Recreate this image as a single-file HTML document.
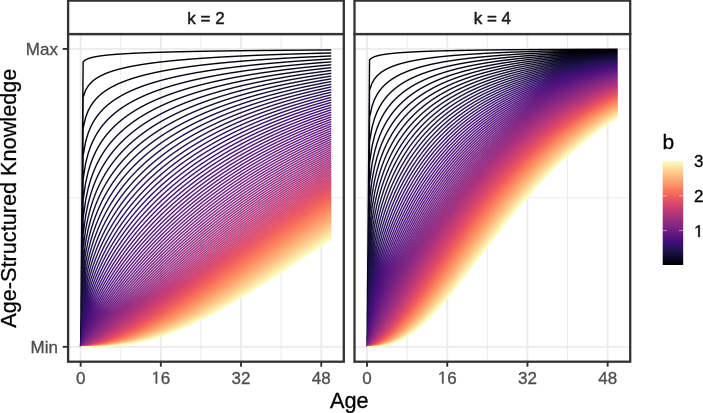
<!DOCTYPE html>
<html><head><meta charset="utf-8"><style>
html,body{margin:0;padding:0;background:#fff;}
body{width:703px;height:413px;overflow:hidden;position:relative;}
svg,canvas{display:block;position:absolute;left:0;top:0;}
svg{font-family:"Liberation Sans",sans-serif;}
.gmin{stroke:#EBEBEB;stroke-width:1;}
.gmaj{stroke:#EBEBEB;stroke-width:1.8;}
.tick{stroke:#333333;stroke-width:1.9;}
.border{fill:none;stroke:#333333;stroke-width:2.3;}
.strip{fill:#fff;stroke:#333333;stroke-width:2.3;}
.cv path{fill:none;stroke-width:1.45;stroke-linejoin:round;stroke-linecap:butt;}
.tl{font-size:17px;fill:#4D4D4D;stroke:#4D4D4D;stroke-width:0.3px;}
.st{font-size:17px;fill:#1A1A1A;stroke:#1A1A1A;stroke-width:0.45px;}
.lt{font-size:17px;fill:#000;stroke:#000;stroke-width:0.3px;}
.ti{font-size:21.7px;fill:#000;stroke:#000;stroke-width:0.3px;}
.ltick{stroke:#fff;stroke-width:1;opacity:0.5;}
</style></head><body>
<svg width="703" height="413" viewBox="0 0 703 413">
<defs>
<clipPath id="c1"><rect x="68.1" y="34.05" width="275.7" height="327.65"/></clipPath>
<clipPath id="c2"><rect x="354.5" y="34.05" width="275.7" height="327.65"/></clipPath>
</defs>
<rect width="703" height="413" fill="#fff"/>
<line x1="120.73" y1="34.05" x2="120.73" y2="361.70" class="gmin"/>
<line x1="200.94" y1="34.05" x2="200.94" y2="361.70" class="gmin"/>
<line x1="281.14" y1="34.05" x2="281.14" y2="361.70" class="gmin"/>
<line x1="68.10" y1="197.88" x2="343.80" y2="197.88" class="gmin"/>
<line x1="80.63" y1="34.05" x2="80.63" y2="361.70" class="gmaj"/>
<line x1="160.84" y1="34.05" x2="160.84" y2="361.70" class="gmaj"/>
<line x1="241.04" y1="34.05" x2="241.04" y2="361.70" class="gmaj"/>
<line x1="321.24" y1="34.05" x2="321.24" y2="361.70" class="gmaj"/>
<line x1="68.10" y1="346.81" x2="343.80" y2="346.81" class="gmaj"/>
<line x1="68.10" y1="48.94" x2="343.80" y2="48.94" class="gmaj"/>
<line x1="407.13" y1="34.05" x2="407.13" y2="361.70" class="gmin"/>
<line x1="487.34" y1="34.05" x2="487.34" y2="361.70" class="gmin"/>
<line x1="567.54" y1="34.05" x2="567.54" y2="361.70" class="gmin"/>
<line x1="354.50" y1="197.88" x2="630.20" y2="197.88" class="gmin"/>
<line x1="367.03" y1="34.05" x2="367.03" y2="361.70" class="gmaj"/>
<line x1="447.24" y1="34.05" x2="447.24" y2="361.70" class="gmaj"/>
<line x1="527.44" y1="34.05" x2="527.44" y2="361.70" class="gmaj"/>
<line x1="607.64" y1="34.05" x2="607.64" y2="361.70" class="gmaj"/>
<line x1="354.50" y1="346.81" x2="630.20" y2="346.81" class="gmaj"/>
<line x1="354.50" y1="48.94" x2="630.20" y2="48.94" class="gmaj"/>
<g class="cv" clip-path="url(#c1)">
<path d="M80.6,346.8 83.1,61.7 85.6,59.8 88.2,58.6 90.7,57.8 93.2,57.2 98.2,56.2 105.7,55.3 113.2,54.5 123.2,53.8 135.8,53.2 150.8,52.6 165.8,52.1 185.9,51.6 208.5,51.2 263.6,50.5 331.3,50.0" stroke="#000004"/>
<path d="M80.6,346.8 83.1,97.1 85.6,90.2 88.2,86.0 90.7,83.0 93.2,80.7 95.7,78.8 98.2,77.2 100.7,75.8 103.2,74.6 105.7,73.5 108.2,72.6 113.2,70.8 115.7,70.1 120.7,68.7 125.7,67.5 130.8,66.5 135.8,65.6 143.3,64.3 155.8,62.6 170.9,60.9 185.9,59.5 205.9,58.0 226.0,56.8 248.6,55.7 273.6,54.7 301.2,53.8 331.3,53.0" stroke="#010106"/>
<path d="M80.6,346.8 83.1,128.1 85.6,117.3 88.2,110.8 90.7,106.0 93.2,102.3 95.7,99.3 98.2,96.7 100.7,94.4 103.2,92.5 105.7,90.7 108.2,89.1 110.7,87.6 113.2,86.2 115.7,85.0 120.7,82.7 125.7,80.8 130.8,79.0 135.8,77.4 140.8,76.0 145.8,74.7 153.3,72.9 158.3,71.9 165.8,70.4 173.4,69.1 180.9,67.9 195.9,65.8 213.5,63.8 233.5,61.9 256.1,60.1 278.6,58.6 303.7,57.2 331.3,56.0" stroke="#02020B"/>
<path d="M80.6,346.8 83.1,155.3 85.6,141.6 88.2,133.2 90.7,127.1 93.2,122.2 95.7,118.2 98.2,114.8 100.7,111.8 103.2,109.1 105.7,106.7 108.2,104.6 110.7,102.6 113.2,100.8 115.7,99.1 120.7,96.0 123.2,94.6 128.3,92.1 133.3,89.8 138.3,87.8 143.3,85.9 148.3,84.2 153.3,82.6 160.8,80.5 165.8,79.1 173.4,77.3 180.9,75.7 188.4,74.2 195.9,72.8 203.4,71.5 211.0,70.3 221.0,68.9 238.5,66.6 258.6,64.5 281.1,62.4 306.2,60.5 331.3,58.9" stroke="#03030F"/>
<path d="M80.6,346.8 83.1,179.1 85.6,163.3 88.2,153.5 90.7,146.2 93.2,140.5 95.7,135.6 98.2,131.5 100.7,127.9 103.2,124.7 105.7,121.8 108.2,119.1 110.7,116.7 113.2,114.5 115.7,112.4 118.2,110.5 120.7,108.6 125.7,105.3 130.8,102.4 135.8,99.7 140.8,97.2 145.8,95.0 150.8,92.9 155.8,91.0 160.8,89.3 168.4,86.8 173.4,85.3 180.9,83.2 188.4,81.3 195.9,79.6 203.4,77.9 211.0,76.4 218.5,75.0 228.5,73.3 246.1,70.6 256.1,69.3 266.1,68.0 286.2,65.8 308.7,63.7 331.3,61.9" stroke="#050416"/>
<path d="M80.6,346.8 83.1,199.9 85.6,182.7 88.2,171.8 90.7,163.7 93.2,157.2 95.7,151.8 98.2,147.1 100.7,142.9 103.2,139.2 105.7,135.9 108.2,132.8 110.7,130.0 113.2,127.4 115.7,125.0 118.2,122.8 120.7,120.6 123.2,118.6 128.3,115.0 133.3,111.6 138.3,108.6 143.3,105.9 148.3,103.3 153.3,101.0 158.3,98.8 163.3,96.8 170.9,93.9 175.9,92.2 183.4,89.8 190.9,87.5 198.4,85.5 205.9,83.6 213.5,81.8 221.0,80.2 228.5,78.6 236.0,77.2 246.1,75.4 256.1,73.8 266.1,72.3 276.1,70.9 286.2,69.6 296.2,68.4 308.7,67.0 331.3,64.8" stroke="#06051A"/>
<path d="M80.6,346.8 83.1,218.2 85.6,200.1 88.2,188.5 90.7,179.7 93.2,172.6 95.7,166.7 98.2,161.5 100.7,156.9 103.2,152.8 105.7,149.1 108.2,145.7 110.7,142.6 113.2,139.7 115.7,136.9 118.2,134.4 120.7,132.0 123.2,129.8 128.3,125.6 130.8,123.7 135.8,120.1 140.8,116.8 145.8,113.8 150.8,111.0 155.8,108.4 160.8,106.0 165.8,103.7 170.9,101.6 178.4,98.6 183.4,96.8 190.9,94.2 195.9,92.6 203.4,90.3 211.0,88.2 218.5,86.3 226.0,84.5 233.5,82.7 241.0,81.1 251.1,79.1 258.6,77.8 268.6,76.0 278.6,74.4 288.7,72.9 308.7,70.2 331.3,67.6" stroke="#090720"/>
<path d="M80.6,346.8 83.1,234.1 85.6,215.6 88.2,203.5 90.7,194.3 93.2,186.8 95.7,180.4 98.2,174.9 100.7,170.0 103.2,165.5 105.7,161.5 108.2,157.8 110.7,154.4 113.2,151.2 115.7,148.2 118.2,145.5 120.7,142.8 125.7,138.0 128.3,135.8 133.3,131.6 135.8,129.7 140.8,126.0 145.8,122.7 150.8,119.5 155.8,116.6 160.8,113.9 165.8,111.4 170.9,109.0 175.9,106.8 183.4,103.6 188.4,101.6 195.9,98.9 200.9,97.2 208.5,94.7 216.0,92.5 223.5,90.3 231.0,88.4 238.5,86.5 246.1,84.7 256.1,82.6 263.6,81.0 273.6,79.1 291.2,76.1 301.2,74.6 311.2,73.1 331.3,70.5" stroke="#0C0926"/>
<path d="M80.6,346.8 83.1,248.1 85.6,229.5 88.2,217.1 90.7,207.6 93.2,199.8 95.7,193.1 98.2,187.3 100.7,182.1 103.2,177.4 105.7,173.1 108.2,169.2 110.7,165.5 113.2,162.1 115.7,158.9 118.2,155.9 120.7,153.1 123.2,150.4 128.3,145.5 130.8,143.1 135.8,138.8 138.3,136.8 143.3,133.0 148.3,129.5 153.3,126.2 158.3,123.1 163.3,120.2 168.4,117.5 173.4,114.9 178.4,112.5 185.9,109.1 190.9,107.0 198.4,104.1 203.4,102.2 211.0,99.5 218.5,97.1 226.0,94.8 233.5,92.6 241.0,90.6 248.6,88.7 256.1,86.8 263.6,85.1 273.6,83.0 281.1,81.5 291.2,79.6 301.2,77.9 311.2,76.2 331.3,73.3" stroke="#0E0B2B"/>
<path d="M80.6,346.8 83.1,260.4 85.6,241.9 88.2,229.4 90.7,219.7 93.2,211.7 95.7,204.9 98.2,198.8 100.7,193.4 103.2,188.5 105.7,184.0 108.2,179.9 110.7,176.0 113.2,172.4 115.7,169.0 118.2,165.9 120.7,162.8 125.7,157.3 128.3,154.7 133.3,149.9 135.8,147.6 140.8,143.3 143.3,141.3 148.3,137.5 153.3,134.0 158.3,130.6 163.3,127.5 168.4,124.6 173.4,121.8 178.4,119.2 183.4,116.7 190.9,113.2 195.9,111.0 203.4,107.9 208.5,106.0 216.0,103.2 223.5,100.6 231.0,98.2 238.5,95.9 246.1,93.7 253.6,91.7 261.1,89.8 276.1,86.3 283.6,84.6 293.7,82.6 311.2,79.3 321.2,77.7 331.3,76.1" stroke="#120D31"/>
<path d="M80.6,346.8 83.1,271.1 85.6,253.0 88.2,240.6 90.7,230.8 93.2,222.7 95.7,215.7 98.2,209.5 100.7,203.9 103.2,198.9 105.7,194.2 108.2,189.9 110.7,185.9 113.2,182.1 115.7,178.6 118.2,175.3 120.7,172.1 123.2,169.1 128.3,163.5 130.8,160.9 135.8,156.0 138.3,153.7 143.3,149.3 145.8,147.3 150.8,143.4 155.8,139.7 160.8,136.2 165.8,133.0 170.9,129.9 175.9,127.0 180.9,124.3 185.9,121.7 193.4,118.0 198.4,115.7 205.9,112.4 211.0,110.4 218.5,107.4 223.5,105.6 231.0,102.9 238.5,100.5 246.1,98.1 253.6,95.9 261.1,93.8 268.6,91.8 276.1,90.0 283.6,88.2 293.7,86.0 301.2,84.4 311.2,82.4 321.2,80.6 331.3,78.8" stroke="#140E36"/>
<path d="M80.6,346.8 83.1,280.5 85.6,263.0 88.2,250.7 90.7,241.0 93.2,232.8 95.7,225.7 98.2,219.4 100.7,213.7 103.2,208.6 105.7,203.8 108.2,199.3 110.7,195.2 113.2,191.3 115.7,187.7 118.2,184.2 123.2,177.8 125.7,174.8 130.8,169.2 133.3,166.6 138.3,161.6 143.3,157.0 148.3,152.8 155.8,146.8 160.8,143.2 165.8,139.8 170.9,136.5 175.9,133.4 180.9,130.5 185.9,127.7 190.9,125.0 195.9,122.5 200.9,120.1 208.5,116.7 213.5,114.5 221.0,111.4 226.0,109.5 233.5,106.7 241.0,104.1 248.6,101.6 256.1,99.3 263.6,97.1 271.1,95.0 278.6,93.0 286.2,91.1 296.2,88.7 303.7,87.0 313.7,84.9 331.3,81.6" stroke="#180F3D"/>
<path d="M80.6,346.8 83.1,288.8 85.6,271.8 88.2,259.8 90.7,250.2 93.2,242.1 95.7,235.0 98.2,228.6 100.7,222.9 103.2,217.6 105.7,212.7 108.2,208.2 110.7,204.0 113.2,200.0 115.7,196.2 118.2,192.6 120.7,189.3 125.7,182.9 128.3,180.0 133.3,174.4 135.8,171.8 140.8,166.8 145.8,162.2 150.8,157.8 158.3,151.8 163.3,148.1 168.4,144.6 173.4,141.2 178.4,138.0 183.4,135.0 188.4,132.1 193.4,129.4 198.4,126.8 203.4,124.3 211.0,120.7 216.0,118.4 223.5,115.2 228.5,113.2 236.0,110.3 243.5,107.5 251.1,104.9 258.6,102.5 266.1,100.2 273.6,97.9 281.1,95.9 296.2,92.0 303.7,90.2 313.7,87.9 331.3,84.3" stroke="#1C1044"/>
<path d="M80.6,346.8 83.1,296.0 85.6,279.8 88.2,268.1 90.7,258.6 93.2,250.6 95.7,243.5 98.2,237.2 100.7,231.4 103.2,226.1 105.7,221.2 108.2,216.6 110.7,212.2 113.2,208.2 115.7,204.3 118.2,200.7 123.2,193.9 125.7,190.7 130.8,184.7 133.3,181.9 138.3,176.5 140.8,174.0 145.8,169.2 150.8,164.7 155.8,160.4 163.3,154.5 168.4,150.8 173.4,147.3 178.4,144.0 183.4,140.8 188.4,137.8 193.4,134.9 198.4,132.1 203.4,129.5 208.5,126.9 216.0,123.3 221.0,121.0 228.5,117.7 233.5,115.7 241.0,112.7 253.6,108.1 261.1,105.5 268.6,103.1 276.1,100.8 283.6,98.6 298.7,94.5 313.7,90.8 321.2,89.1 331.3,86.9" stroke="#1E1149"/>
<path d="M80.6,346.8 83.1,302.3 85.6,286.9 88.2,275.5 90.7,266.3 93.2,258.4 95.7,251.4 98.2,245.1 100.7,239.3 103.2,234.0 105.7,229.0 108.2,224.4 110.7,220.0 113.2,215.9 115.7,212.0 118.2,208.3 120.7,204.7 125.7,198.1 128.3,194.9 133.3,189.0 135.8,186.2 140.8,180.9 143.3,178.4 148.3,173.6 153.3,169.0 158.3,164.8 165.8,158.8 170.9,155.0 175.9,151.4 180.9,148.1 185.9,144.8 190.9,141.7 195.9,138.7 200.9,135.9 205.9,133.2 211.0,130.6 218.5,126.9 223.5,124.5 231.0,121.1 236.0,119.0 243.5,115.9 256.1,111.1 263.6,108.4 271.1,105.9 278.6,103.5 286.2,101.2 301.2,97.0 316.2,93.1 331.3,89.6" stroke="#221150"/>
<path d="M80.6,346.8 83.1,307.8 85.6,293.2 88.2,282.3 90.7,273.3 93.2,265.6 95.7,258.7 98.2,252.4 100.7,246.7 103.2,241.4 105.7,236.4 108.2,231.8 110.7,227.4 113.2,223.2 115.7,219.2 120.7,211.9 123.2,208.4 128.3,201.9 130.8,198.8 135.8,193.0 138.3,190.2 143.3,185.0 145.8,182.5 150.8,177.6 155.8,173.1 160.8,168.8 168.4,162.7 173.4,158.9 178.4,155.3 183.4,151.9 188.4,148.6 193.4,145.4 198.4,142.4 203.4,139.5 208.5,136.7 213.5,134.0 221.0,130.2 226.0,127.8 233.5,124.3 238.5,122.1 246.1,118.9 258.6,114.0 271.1,109.5 278.6,106.9 286.2,104.5 293.7,102.2 301.2,100.0 316.2,95.9 331.3,92.2" stroke="#251255"/>
<path d="M80.6,346.8 83.1,312.6 85.6,298.9 88.2,288.4 90.7,279.7 93.2,272.2 95.7,265.4 98.2,259.2 100.7,253.6 103.2,248.3 105.7,243.3 108.2,238.7 110.7,234.3 113.2,230.1 118.2,222.3 123.2,215.2 125.7,211.8 130.8,205.4 133.3,202.4 138.3,196.7 140.8,193.9 145.8,188.7 153.3,181.4 158.3,176.9 163.3,172.5 170.9,166.4 175.9,162.6 180.9,159.0 185.9,155.5 190.9,152.1 195.9,148.9 200.9,145.8 211.0,140.0 216.0,137.3 223.5,133.4 228.5,130.9 236.0,127.3 241.0,125.1 248.6,121.8 261.1,116.7 273.6,112.0 286.2,107.7 293.7,105.3 301.2,103.0 316.2,98.7 331.3,94.8" stroke="#2A115C"/>
<path d="M80.6,346.8 83.1,316.9 85.6,303.9 88.2,294.0 90.7,285.6 93.2,278.2 95.7,271.6 98.2,265.6 100.7,260.0 103.2,254.7 105.7,249.8 108.2,245.2 110.7,240.8 113.2,236.6 115.7,232.6 120.7,225.1 125.7,218.2 128.3,214.9 133.3,208.7 135.8,205.7 140.8,200.1 143.3,197.3 148.3,192.2 155.8,184.9 160.8,180.3 165.8,176.0 173.4,169.9 178.4,166.1 183.4,162.4 188.4,158.8 193.4,155.4 198.4,152.2 203.4,149.1 213.5,143.2 218.5,140.4 226.0,136.4 236.0,131.4 241.0,129.0 248.6,125.6 261.1,120.3 273.6,115.4 286.2,110.9 293.7,108.4 301.2,106.0 316.2,101.5 331.3,97.4" stroke="#2D1161"/>
<path d="M80.6,346.8 83.1,320.6 85.6,308.5 88.2,299.0 90.7,290.9 93.2,283.8 95.7,277.4 98.2,271.4 100.7,265.9 103.2,260.8 105.7,255.9 108.2,251.3 110.7,246.9 115.7,238.7 118.2,234.9 123.2,227.7 125.7,224.3 130.8,217.8 133.3,214.7 138.3,208.8 140.8,205.9 145.8,200.5 153.3,192.9 160.8,185.8 165.8,181.4 170.9,177.2 178.4,171.2 183.4,167.4 188.4,163.8 193.4,160.3 198.4,156.9 203.4,153.7 208.5,150.6 218.5,144.7 228.5,139.2 238.5,134.1 243.5,131.7 251.1,128.2 263.6,122.8 276.1,117.8 288.7,113.2 296.2,110.6 303.7,108.1 316.2,104.2 331.3,99.9" stroke="#331067"/>
<path d="M80.6,346.8 83.1,323.9 85.6,312.5 88.2,303.5 90.7,295.8 93.2,288.9 95.7,282.7 98.2,276.9 100.7,271.5 103.2,266.4 105.7,261.6 108.2,257.0 113.2,248.5 118.2,240.7 120.7,237.1 125.7,230.1 128.3,226.7 133.3,220.4 135.8,217.4 140.8,211.6 148.3,203.4 155.8,195.9 163.3,188.9 168.4,184.5 173.4,180.2 180.9,174.2 185.9,170.4 190.9,166.7 195.9,163.2 200.9,159.8 211.0,153.4 221.0,147.5 231.0,141.9 241.0,136.8 246.1,134.3 253.6,130.7 266.1,125.2 278.6,120.1 291.2,115.4 303.7,111.0 316.2,106.9 331.3,102.4" stroke="#38106C"/>
<path d="M80.6,346.8 83.1,326.7 85.6,316.2 88.2,307.7 90.7,300.3 93.2,293.6 95.7,287.6 98.2,281.9 100.7,276.6 103.2,271.7 105.7,266.9 108.2,262.4 110.7,258.1 115.7,250.1 120.7,242.6 123.2,239.0 128.3,232.3 130.8,229.0 135.8,222.8 138.3,219.9 143.3,214.2 150.8,206.1 158.3,198.7 165.8,191.7 170.9,187.3 175.9,183.1 183.4,177.1 188.4,173.2 193.4,169.6 198.4,166.0 203.4,162.6 213.5,156.1 223.5,150.1 233.5,144.5 243.5,139.2 248.6,136.7 256.1,133.1 266.1,128.6 278.6,123.3 291.2,118.4 303.7,113.8 316.2,109.6 331.3,104.9" stroke="#3B0F70"/>
<path d="M80.6,346.8 83.1,329.2 85.6,319.4 88.2,311.4 90.7,304.3 93.2,298.0 95.7,292.1 98.2,286.6 100.7,281.5 103.2,276.6 105.7,271.9 110.7,263.3 113.2,259.2 118.2,251.5 123.2,244.3 125.7,240.8 130.8,234.3 133.3,231.1 138.3,225.1 145.8,216.6 153.3,208.7 160.8,201.3 168.4,194.3 173.4,189.9 178.4,185.7 185.9,179.7 190.9,175.9 195.9,172.2 200.9,168.6 205.9,165.2 216.0,158.7 226.0,152.6 236.0,146.9 246.1,141.6 251.1,139.0 258.6,135.4 268.6,130.8 281.1,125.4 293.7,120.3 306.2,115.7 318.7,111.4 331.3,107.4" stroke="#400F74"/>
<path d="M80.6,346.8 83.1,331.4 85.6,322.3 88.2,314.7 90.7,308.0 93.2,301.9 95.7,296.3 98.2,291.0 100.7,285.9 103.2,281.2 108.2,272.3 113.2,264.1 115.7,260.2 120.7,252.8 125.7,245.9 128.3,242.5 133.3,236.1 140.8,227.2 148.3,218.8 155.8,211.0 163.3,203.7 170.9,196.8 175.9,192.4 180.9,188.2 188.4,182.2 193.4,178.4 198.4,174.7 208.5,167.7 218.5,161.1 228.5,155.0 238.5,149.2 248.6,143.8 258.6,138.8 268.6,134.0 281.1,128.4 293.7,123.2 306.2,118.4 318.7,114.0 331.3,109.8" stroke="#440F76"/>
<path d="M80.6,346.8 83.1,333.3 85.6,324.9 88.2,317.8 90.7,311.4 93.2,305.6 95.7,300.1 98.2,295.0 100.7,290.1 103.2,285.5 108.2,276.8 113.2,268.7 115.7,264.9 120.7,257.5 125.7,250.6 128.3,247.3 133.3,240.9 140.8,231.9 148.3,223.6 155.8,215.7 160.8,210.7 165.8,205.9 173.4,199.1 178.4,194.8 183.4,190.6 190.9,184.6 195.9,180.7 200.9,177.0 208.5,171.7 218.5,165.0 228.5,158.7 238.5,152.8 248.6,147.3 253.6,144.6 261.1,140.8 271.1,136.0 283.6,130.3 293.7,126.1 306.2,121.1 318.7,116.5 331.3,112.2" stroke="#491078"/>
<path d="M80.6,346.8 83.1,335.0 85.6,327.2 88.2,320.5 90.7,314.5 93.2,308.9 95.7,303.7 98.2,298.7 100.7,294.0 105.7,285.2 110.7,277.0 115.7,269.3 118.2,265.6 123.2,258.6 128.3,251.9 135.8,242.5 143.3,233.7 150.8,225.4 158.3,217.7 163.3,212.8 168.4,208.0 175.9,201.3 180.9,196.9 185.9,192.8 193.4,186.8 198.4,182.9 203.4,179.2 211.0,173.9 221.0,167.2 231.0,160.8 241.0,154.9 251.1,149.3 261.1,144.0 271.1,139.1 283.6,133.3 293.7,128.9 306.2,123.8 318.7,119.0 331.3,114.6" stroke="#4E117B"/>
<path d="M80.6,346.8 83.1,336.5 85.6,329.3 88.2,323.0 90.7,317.3 93.2,312.0 95.7,307.0 100.7,297.6 105.7,289.0 108.2,284.9 113.2,277.2 118.2,269.8 120.7,266.3 125.7,259.5 133.3,249.9 140.8,241.0 148.3,232.5 155.8,224.6 163.3,217.1 170.9,210.0 178.4,203.3 183.4,199.0 188.4,194.8 195.9,188.8 205.9,181.3 213.5,176.0 223.5,169.2 233.5,162.9 243.5,156.9 253.6,151.2 263.6,145.9 273.6,140.9 286.2,135.0 296.2,130.6 308.7,125.4 318.7,121.5 331.3,117.0" stroke="#51127C"/>
<path d="M80.6,346.8 83.1,337.7 85.6,331.1 88.2,325.3 90.7,319.9 93.2,314.8 95.7,310.0 98.2,305.4 103.2,296.8 108.2,288.7 110.7,284.8 115.7,277.4 120.7,270.3 128.3,260.4 135.8,251.1 143.3,242.3 150.8,234.1 158.3,226.3 165.8,218.9 173.4,211.8 180.9,205.2 185.9,200.9 190.9,196.7 198.4,190.8 208.5,183.3 216.0,177.9 226.0,171.1 236.0,164.8 246.1,158.7 256.1,153.1 266.1,147.7 276.1,142.6 286.2,137.9 296.2,133.3 308.7,128.0 318.7,124.0 331.3,119.3" stroke="#56147D"/>
<path d="M80.6,346.8 83.1,338.9 85.6,332.8 88.2,327.3 90.7,322.2 93.2,317.4 98.2,308.4 103.2,300.0 108.2,292.2 110.7,288.4 115.7,281.1 120.7,274.2 128.3,264.4 135.8,255.1 143.3,246.4 150.8,238.2 158.3,230.3 165.8,222.9 170.9,218.2 175.9,213.6 183.4,206.9 190.9,200.6 198.4,194.6 208.5,186.9 216.0,181.5 226.0,174.6 236.0,168.1 246.1,162.0 256.1,156.2 266.1,150.7 276.1,145.6 286.2,140.7 296.2,136.0 308.7,130.6 318.7,126.5 331.3,121.6" stroke="#59157E"/>
<path d="M80.6,346.8 83.1,339.9 85.6,334.3 88.2,329.2 90.7,324.4 95.7,315.4 100.7,307.1 105.7,299.2 110.7,291.8 118.2,281.2 123.2,274.6 130.8,265.0 138.3,256.1 145.8,247.5 153.3,239.4 160.8,231.7 168.4,224.4 173.4,219.7 178.4,215.2 185.9,208.6 193.4,202.3 200.9,196.3 211.0,188.7 218.5,183.2 228.5,176.4 238.5,169.9 248.6,163.7 258.6,157.9 268.6,152.4 278.6,147.1 288.7,142.2 298.7,137.5 308.7,133.1 318.7,128.9 331.3,123.9" stroke="#5D177F"/>
<path d="M80.6,346.8 83.1,340.7 85.6,335.6 88.2,330.9 93.2,322.0 98.2,313.8 103.2,306.0 110.7,295.0 115.7,288.0 123.2,278.1 128.3,271.8 135.8,262.7 143.3,254.1 150.8,245.9 158.3,238.1 165.8,230.6 173.4,223.5 183.4,214.5 190.9,208.0 198.4,201.9 205.9,196.0 216.0,188.5 223.5,183.1 233.5,176.3 241.0,171.5 251.1,165.3 258.6,160.9 268.6,155.3 278.6,149.9 288.7,144.9 298.7,140.1 308.7,135.6 318.7,131.3 331.3,126.2" stroke="#601880"/>
<path d="M80.6,346.8 83.1,341.5 85.6,336.8 88.2,332.4 93.2,324.0 98.2,316.1 103.2,308.6 110.7,298.0 118.2,287.9 125.7,278.3 130.8,272.2 138.3,263.4 145.8,254.9 153.3,246.9 160.8,239.2 168.4,231.9 175.9,224.8 185.9,215.9 193.4,209.5 200.9,203.4 208.5,197.5 218.5,190.0 226.0,184.7 236.0,177.9 243.5,173.0 253.6,166.8 261.1,162.4 271.1,156.7 281.1,151.4 291.2,146.3 301.2,141.5 311.2,136.9 321.2,132.6 331.3,128.4" stroke="#651A80"/>
<path d="M80.6,346.8 83.1,342.1 88.2,333.7 93.2,325.9 100.7,314.7 105.7,307.6 113.2,297.4 120.7,287.7 128.3,278.5 135.8,269.6 143.3,261.2 150.8,253.1 158.3,245.3 165.8,237.8 173.4,230.7 180.9,223.8 188.4,217.2 195.9,210.9 203.4,204.8 211.0,198.9 221.0,191.5 228.5,186.1 238.5,179.3 246.1,174.5 256.1,168.3 263.6,163.8 273.6,158.2 281.1,154.1 291.2,148.9 301.2,144.0 311.2,139.3 321.2,134.9 331.3,130.6" stroke="#6A1C81"/>
<path d="M80.6,346.8 85.6,338.8 90.7,331.2 95.7,324.0 103.2,313.5 108.2,306.7 115.7,297.0 123.2,287.7 130.8,278.7 138.3,270.1 145.8,261.8 153.3,253.9 160.8,246.2 168.4,238.9 175.9,231.8 183.4,225.0 190.9,218.5 198.4,212.2 205.9,206.1 213.5,200.3 223.5,192.9 231.0,187.5 238.5,182.4 246.1,177.5 256.1,171.2 263.6,166.6 273.6,160.9 283.6,155.4 293.7,150.2 301.2,146.5 311.2,141.7 321.2,137.2 331.3,132.8" stroke="#6D1D81"/>
<path d="M80.6,346.8 88.2,336.1 95.7,325.7 100.7,319.0 108.2,309.1 113.2,302.8 120.7,293.5 128.3,284.6 135.8,276.0 140.8,270.5 148.3,262.4 155.8,254.6 163.3,247.1 170.9,239.8 178.4,232.8 185.9,226.1 193.4,219.6 200.9,213.4 208.5,207.4 216.0,201.6 226.0,194.1 233.5,188.8 241.0,183.7 248.6,178.8 258.6,172.5 266.1,167.9 276.1,162.2 283.6,158.0 293.7,152.7 301.2,148.9 311.2,144.0 321.2,139.4 331.3,135.0" stroke="#721F81"/>
<path d="M80.6,346.8 83.1,343.7 100.7,320.9 108.2,311.4 113.2,305.2 120.7,296.2 125.7,290.4 130.8,284.6 138.3,276.2 143.3,270.8 150.8,262.9 158.3,255.2 165.8,247.8 173.4,240.7 180.9,233.8 188.4,227.1 195.9,220.7 203.4,214.5 211.0,208.5 218.5,202.7 228.5,195.4 236.0,190.1 243.5,184.9 251.1,180.0 261.1,173.7 268.6,169.2 278.6,163.4 286.2,159.2 296.2,153.9 303.7,150.1 313.7,145.2 321.2,141.7 331.3,137.2" stroke="#752181"/>
<path d="M80.6,346.8 83.1,344.1 85.6,341.1 105.7,316.6 118.2,301.7 125.7,293.0 130.8,287.4 138.3,279.1 143.3,273.8 148.3,268.5 155.8,260.8 163.3,253.4 170.9,246.2 178.4,239.2 185.9,232.5 193.4,225.9 200.9,219.6 208.5,213.6 216.0,207.7 223.5,202.0 231.0,196.5 238.5,191.2 246.1,186.1 253.6,181.2 263.6,174.9 271.1,170.3 278.6,165.9 286.2,161.7 296.2,156.3 303.7,152.4 313.7,147.5 321.2,143.9 331.3,139.3" stroke="#792282"/>
<path d="M80.6,346.8 83.1,344.4 88.2,338.9 113.2,309.8 125.7,295.6 138.3,281.9 148.3,271.4 155.8,263.8 160.8,258.9 168.4,251.6 175.9,244.6 180.9,240.0 188.4,233.3 195.9,226.9 203.4,220.6 211.0,214.6 218.5,208.7 226.0,203.1 233.5,197.6 241.0,192.3 248.6,187.2 256.1,182.3 263.6,177.5 271.1,172.9 278.6,168.5 286.2,164.2 296.2,158.7 303.7,154.8 313.7,149.7 321.2,146.1 331.3,141.4" stroke="#7E2482"/>
<path d="M80.6,346.8 83.1,344.7 88.2,339.6 95.7,331.5 115.7,309.0 128.3,295.3 140.8,282.0 153.3,269.2 165.8,256.9 178.4,245.2 183.4,240.7 190.9,234.1 198.4,227.7 205.9,221.5 213.5,215.5 221.0,209.7 228.5,204.1 236.0,198.6 243.5,193.3 251.1,188.2 258.6,183.3 266.1,178.6 273.6,174.0 281.1,169.5 288.7,165.2 298.7,159.7 306.2,155.8 313.7,151.9 321.2,148.2 331.3,143.5" stroke="#812581"/>
<path d="M80.6,346.8 83.1,345.0 85.6,342.7 88.2,340.3 93.2,335.2 100.7,327.3 123.2,303.0 133.3,292.4 145.8,279.4 158.3,267.0 170.9,255.0 183.4,243.6 195.9,232.7 208.5,222.4 216.0,216.4 223.5,210.6 231.0,205.0 238.5,199.6 246.1,194.3 253.6,189.2 261.1,184.3 268.6,179.5 276.1,174.9 283.6,170.5 291.2,166.2 298.7,162.0 306.2,158.0 313.7,154.1 321.2,150.4 331.3,145.6" stroke="#862781"/>
<path d="M80.6,346.8 83.1,345.2 85.6,343.1 90.7,338.6 95.7,333.7 103.2,326.1 128.3,299.9 140.8,287.1 153.3,274.6 165.8,262.5 178.4,250.9 190.9,239.8 200.9,231.3 213.5,221.1 226.0,211.5 233.5,205.9 241.0,200.5 248.6,195.2 256.1,190.1 263.6,185.2 271.1,180.5 278.6,175.9 286.2,171.4 293.7,167.1 301.2,162.9 308.7,158.9 316.2,155.0 323.7,151.3 331.3,147.6" stroke="#892881"/>
<path d="M80.6,346.8 83.1,345.4 85.6,343.5 88.2,341.5 93.2,337.0 98.2,332.3 108.2,322.4 133.3,297.0 145.8,284.5 158.3,272.3 170.9,260.5 183.4,249.2 193.4,240.4 205.9,229.9 216.0,221.9 228.5,212.2 236.0,206.7 243.5,201.3 256.1,192.7 263.6,187.7 271.1,182.9 278.6,178.3 286.2,173.8 293.7,169.4 301.2,165.2 308.7,161.1 316.2,157.2 323.7,153.4 331.3,149.7" stroke="#8E2A81"/>
<path d="M80.6,346.8 83.1,345.6 85.6,343.9 88.2,342.0 93.2,337.8 100.7,331.0 110.7,321.4 138.3,294.2 150.8,282.0 165.8,267.8 178.4,256.3 190.9,245.3 200.9,236.8 211.0,228.5 221.0,220.6 233.5,211.1 246.1,202.1 258.6,193.5 266.1,188.5 273.6,183.7 286.2,176.1 293.7,171.7 301.2,167.4 308.7,163.3 316.2,159.3 323.7,155.4 331.3,151.7" stroke="#932B80"/>
<path d="M80.6,346.8 83.1,345.7 85.6,344.2 88.2,342.4 93.2,338.6 98.2,334.3 105.7,327.6 113.2,320.5 143.3,291.5 155.8,279.6 165.8,270.2 175.9,261.1 188.4,250.0 200.9,239.4 213.5,229.1 223.5,221.3 236.0,211.8 248.6,202.8 261.1,194.3 268.6,189.3 276.1,184.5 288.7,176.9 296.2,172.4 303.7,168.2 316.2,161.4 323.7,157.4 331.3,153.7" stroke="#962C80"/>
<path d="M80.6,346.8 83.1,345.9 85.6,344.5 88.2,342.9 93.2,339.2 95.7,337.3 100.7,333.1 108.2,326.6 115.7,319.7 158.3,279.6 170.9,268.1 180.9,259.1 193.4,248.3 205.9,237.8 218.5,227.7 228.5,220.0 241.0,210.7 253.6,201.8 266.1,193.3 278.6,185.3 291.2,177.6 303.7,170.3 316.2,163.4 323.7,159.5 331.3,155.6" stroke="#9B2E7F"/>
<path d="M80.6,346.8 83.1,346.0 85.6,344.7 88.2,343.2 90.7,341.6 93.2,339.9 98.2,336.1 105.7,329.9 113.2,323.4 120.7,316.6 160.8,279.6 173.4,268.2 183.4,259.4 195.9,248.6 208.5,238.2 221.0,228.3 231.0,220.5 243.5,211.3 256.1,202.4 268.6,194.0 281.1,185.9 293.7,178.3 306.2,171.0 318.7,164.1 331.3,157.6" stroke="#9E2F7F"/>
<path d="M80.6,346.8 83.1,346.1 85.6,344.9 88.2,343.6 90.7,342.1 93.2,340.4 98.2,336.8 103.2,333.0 108.2,328.9 115.7,322.5 123.2,315.9 165.8,277.3 178.4,266.2 188.4,257.5 200.9,246.9 213.5,236.6 226.0,226.8 236.0,219.2 246.1,211.9 258.6,203.0 271.1,194.6 283.6,186.6 293.7,180.4 306.2,173.1 318.7,166.1 331.3,159.5" stroke="#A3307E"/>
<path d="M80.6,346.8 83.1,346.2 85.6,345.1 88.2,343.9 90.7,342.5 93.2,340.9 95.7,339.3 100.7,335.8 105.7,332.0 110.7,328.0 118.2,321.7 128.3,313.1 168.4,277.3 180.9,266.3 190.9,257.7 203.4,247.2 216.0,237.0 228.5,227.3 238.5,219.7 251.1,210.6 261.1,203.6 271.1,196.9 283.6,188.8 293.7,182.6 306.2,175.2 318.7,168.1 331.3,161.4" stroke="#A6317D"/>
<path d="M80.6,346.8 83.1,346.2 85.6,345.3 88.2,344.2 90.7,342.9 93.2,341.4 95.7,339.9 100.7,336.5 105.7,332.9 110.7,329.1 120.7,321.0 130.8,312.4 140.8,303.7 173.4,275.0 185.9,264.2 195.9,255.7 208.5,245.4 221.0,235.4 233.5,225.8 243.5,218.3 253.6,211.1 263.6,204.1 273.6,197.4 286.2,189.3 296.2,183.1 308.7,175.7 318.7,170.1 331.3,163.3" stroke="#AB337C"/>
<path d="M80.6,346.8 83.1,346.3 85.6,345.5 88.2,344.4 90.7,343.2 93.2,341.9 98.2,338.9 103.2,335.5 108.2,332.0 113.2,328.2 123.2,320.2 133.3,311.9 143.3,303.3 178.4,272.8 190.9,262.2 200.9,253.8 213.5,243.7 226.0,233.8 238.5,224.3 248.6,216.9 258.6,209.8 268.6,202.9 278.6,196.3 288.7,189.9 298.7,183.7 308.7,177.7 318.7,172.0 331.3,165.2" stroke="#B0357B"/>
<path d="M80.6,346.8 83.1,346.4 85.6,345.6 88.2,344.6 90.7,343.5 95.7,340.9 100.7,337.9 105.7,334.6 110.7,331.1 115.7,327.4 125.7,319.5 135.8,311.3 148.3,300.7 183.4,270.7 195.9,260.2 205.9,252.0 218.5,241.9 228.5,234.1 241.0,224.6 251.1,217.3 261.1,210.2 271.1,203.4 281.1,196.7 291.2,190.3 301.2,184.2 311.2,178.2 321.2,172.5 331.3,167.0" stroke="#B3367A"/>
<path d="M80.6,346.8 83.1,346.4 85.6,345.7 88.2,344.8 90.7,343.8 93.2,342.6 98.2,340.0 103.2,337.0 108.2,333.7 113.2,330.2 118.2,326.6 125.7,320.8 138.3,310.7 150.8,300.3 185.9,270.7 198.4,260.3 208.5,252.1 218.5,244.1 226.0,238.2 236.0,230.6 243.5,225.0 256.1,215.9 266.1,208.9 276.1,202.1 286.2,195.6 296.2,189.2 308.7,181.6 318.7,175.8 331.3,168.8" stroke="#B83779"/>
<path d="M80.6,346.8 83.1,346.5 85.6,345.9 88.2,345.0 90.7,344.1 95.7,341.8 100.7,339.1 105.7,336.1 110.7,332.8 115.7,329.4 120.7,325.8 128.3,320.1 140.8,310.2 153.3,299.9 190.9,268.5 200.9,260.3 211.0,252.2 221.0,244.3 228.5,238.5 238.5,230.9 246.1,225.3 258.6,216.2 268.6,209.3 278.6,202.5 288.7,196.0 298.7,189.7 308.7,183.6 318.7,177.7 331.3,170.7" stroke="#BC3978"/>
<path d="M80.6,346.8 83.1,346.5 85.6,346.0 88.2,345.2 90.7,344.3 95.7,342.1 100.7,339.6 105.7,336.7 110.7,333.6 118.2,328.6 123.2,325.0 128.3,321.3 133.3,317.5 140.8,311.7 153.3,301.6 190.9,270.6 208.5,256.3 218.5,248.4 228.5,240.6 238.5,233.0 246.1,227.4 258.6,218.3 268.6,211.3 278.6,204.5 288.7,198.0 298.7,191.6 308.7,185.5 318.7,179.5 331.3,172.4" stroke="#C03A76"/>
<path d="M80.6,346.8 83.1,346.6 85.6,346.0 88.2,345.4 90.7,344.5 93.2,343.6 98.2,341.3 103.2,338.8 108.2,335.9 113.2,332.8 120.7,327.8 125.7,324.3 130.8,320.7 135.8,316.9 143.3,311.1 158.3,299.1 193.4,270.5 211.0,256.4 221.0,248.5 231.0,240.7 241.0,233.2 248.6,227.6 261.1,218.6 271.1,211.6 281.1,204.9 291.2,198.3 301.2,192.0 311.2,185.8 321.2,179.9 331.3,174.2" stroke="#C53C74"/>
<path d="M80.6,346.8 83.1,346.6 85.6,346.1 88.2,345.5 90.7,344.7 93.2,343.8 98.2,341.7 103.2,339.3 105.7,338.0 110.7,335.1 115.7,332.1 123.2,327.1 128.3,323.6 135.8,318.2 148.3,308.6 160.8,298.7 198.4,268.4 216.0,254.4 233.5,240.9 243.5,233.3 251.1,227.8 261.1,220.6 271.1,213.6 281.1,206.8 291.2,200.2 301.2,193.8 311.2,187.7 321.2,181.7 331.3,176.0" stroke="#C83E73"/>
<path d="M80.6,346.8 83.1,346.6 85.6,346.2 88.2,345.6 90.7,344.9 95.7,343.1 100.7,341.0 105.7,338.5 108.2,337.2 113.2,334.3 118.2,331.3 125.7,326.4 130.8,323.0 138.3,317.6 150.8,308.1 165.8,296.4 200.9,268.3 218.5,254.4 236.0,241.0 246.1,233.5 253.6,228.0 263.6,220.8 273.6,213.8 283.6,207.1 293.7,200.5 303.7,194.1 311.2,189.5 321.2,183.5 331.3,177.7" stroke="#CD4071"/>
<path d="M80.6,346.8 83.1,346.6 85.6,346.3 88.2,345.7 90.7,345.1 95.7,343.4 100.7,341.4 105.7,339.0 108.2,337.8 113.2,335.0 120.7,330.6 128.3,325.7 133.3,322.3 140.8,317.0 153.3,307.6 168.4,296.0 203.4,268.2 221.0,254.4 238.5,241.0 248.6,233.6 256.1,228.1 266.1,221.0 276.1,214.0 286.2,207.3 293.7,202.4 303.7,196.0 313.7,189.8 321.2,185.3 331.3,179.4" stroke="#D0416F"/>
<path d="M80.6,346.8 83.1,346.7 85.6,346.3 88.2,345.8 90.7,345.2 95.7,343.7 98.2,342.8 103.2,340.7 108.2,338.3 115.7,334.3 123.2,329.9 130.8,325.0 135.8,321.7 143.3,316.4 150.8,310.9 158.3,305.3 173.4,293.7 205.9,268.0 223.5,254.4 241.0,241.1 258.6,228.2 268.6,221.1 278.6,214.2 288.7,207.5 296.2,202.6 306.2,196.2 313.7,191.6 321.2,187.0 331.3,181.1" stroke="#D5446D"/>
<path d="M80.6,346.8 83.1,346.7 85.6,346.4 88.2,345.9 90.7,345.4 95.7,343.9 98.2,343.0 103.2,341.1 105.7,340.0 110.7,337.6 118.2,333.6 125.7,329.2 133.3,324.4 138.3,321.0 145.8,315.8 153.3,310.4 160.8,304.8 175.9,293.3 211.0,265.9 228.5,252.4 246.1,239.3 261.1,228.3 271.1,221.3 278.6,216.1 288.7,209.3 296.2,204.4 306.2,198.0 313.7,193.3 323.7,187.2 331.3,182.8" stroke="#D8456C"/>
<path d="M80.6,346.8 83.1,346.7 85.6,346.4 88.2,346.0 90.7,345.5 93.2,344.9 98.2,343.3 100.7,342.4 105.7,340.4 108.2,339.3 113.2,336.9 120.7,332.9 128.3,328.5 135.8,323.7 140.8,320.4 148.3,315.2 155.8,309.8 163.3,304.3 178.4,292.9 213.5,265.8 231.0,252.4 248.6,239.3 263.6,228.4 273.6,221.4 281.1,216.2 291.2,209.5 298.7,204.6 308.7,198.2 316.2,193.5 331.3,184.5" stroke="#DC4869"/>
<path d="M80.6,346.8 83.1,346.7 85.6,346.5 88.2,346.1 93.2,345.0 98.2,343.6 100.7,342.7 105.7,340.8 108.2,339.8 113.2,337.5 120.7,333.6 128.3,329.3 133.3,326.3 138.3,323.1 145.8,318.1 153.3,312.9 160.8,307.5 168.4,302.0 183.4,290.7 218.5,263.7 233.5,252.3 251.1,239.3 266.1,228.5 276.1,221.5 283.6,216.3 298.7,206.3 308.7,199.9 316.2,195.2 331.3,186.2" stroke="#E04C67"/>
<path d="M80.6,346.8 83.1,346.7 85.6,346.5 88.2,346.2 93.2,345.2 98.2,343.8 100.7,343.0 105.7,341.2 108.2,340.2 113.2,338.0 120.7,334.3 128.3,330.1 133.3,327.2 138.3,324.1 145.8,319.2 153.3,314.1 160.8,308.8 168.4,303.4 185.9,290.3 221.0,263.5 236.0,252.2 253.6,239.3 268.6,228.5 278.6,221.5 286.2,216.4 301.2,206.4 316.2,196.9 331.3,187.8" stroke="#E34E65"/>
<path d="M80.6,346.8 83.1,346.7 85.6,346.5 88.2,346.2 93.2,345.3 95.7,344.7 100.7,343.3 103.2,342.4 108.2,340.6 110.7,339.6 115.7,337.3 123.2,333.6 130.8,329.5 135.8,326.5 140.8,323.5 148.3,318.6 155.8,313.5 163.3,308.3 173.4,301.1 188.4,289.9 223.5,263.4 238.5,252.1 253.6,241.0 268.6,230.3 278.6,223.3 286.2,218.1 301.2,208.1 316.2,198.6 331.3,189.4" stroke="#E75263"/>
<path d="M80.6,346.8 83.1,346.7 85.6,346.6 88.2,346.3 93.2,345.4 95.7,344.9 100.7,343.5 103.2,342.7 108.2,341.0 110.7,340.0 115.7,337.8 120.7,335.5 125.7,333.0 133.3,328.8 138.3,325.9 143.3,322.8 150.8,318.0 158.3,313.0 165.8,307.8 175.9,300.6 193.4,287.7 226.0,263.2 241.0,252.0 256.1,241.0 271.1,230.2 286.2,219.8 301.2,209.8 316.2,200.2 331.3,191.0" stroke="#E95462"/>
<path d="M80.6,346.8 83.1,346.7 88.2,346.3 90.7,346.0 95.7,345.0 98.2,344.4 103.2,343.0 105.7,342.2 110.7,340.4 113.2,339.4 118.2,337.2 123.2,334.9 128.3,332.3 135.8,328.2 140.8,325.3 145.8,322.2 153.3,317.4 160.8,312.5 168.4,307.3 178.4,300.2 195.9,287.3 228.5,262.9 243.5,251.8 258.6,240.9 273.6,230.2 288.7,219.8 303.7,209.9 318.7,200.3 331.3,192.6" stroke="#EC5860"/>
<path d="M80.6,346.8 83.1,346.8 88.2,346.4 90.7,346.0 95.7,345.1 98.2,344.6 103.2,343.2 105.7,342.5 110.7,340.7 113.2,339.8 118.2,337.7 123.2,335.4 128.3,333.0 135.8,329.0 140.8,326.1 145.8,323.2 153.3,318.5 160.8,313.6 170.9,306.8 180.9,299.7 198.4,286.9 246.1,251.6 261.1,240.8 276.1,230.1 291.2,219.8 303.7,211.5 318.7,201.9 331.3,194.2" stroke="#EF5D5E"/>
<path d="M80.6,346.8 83.1,346.8 88.2,346.4 90.7,346.1 95.7,345.3 98.2,344.7 103.2,343.5 105.7,342.7 110.7,341.1 113.2,340.2 118.2,338.2 123.2,336.0 128.3,333.6 133.3,331.1 138.3,328.4 143.3,325.5 148.3,322.6 155.8,317.9 163.3,313.0 173.4,306.3 183.4,299.2 200.9,286.6 236.0,260.6 251.1,249.6 266.1,238.8 278.6,230.0 293.7,219.8 306.2,211.5 318.7,203.5 331.3,195.7" stroke="#F1605D"/>
<path d="M80.6,346.8 83.1,346.8 88.2,346.4 90.7,346.2 95.7,345.4 98.2,344.9 103.2,343.7 108.2,342.2 113.2,340.5 120.7,337.6 125.7,335.4 130.8,333.0 135.8,330.5 140.8,327.8 145.8,324.9 150.8,322.0 158.3,317.3 165.8,312.5 175.9,305.8 185.9,298.8 203.4,286.2 238.5,260.4 253.6,249.5 268.6,238.7 281.1,230.0 293.7,221.4 306.2,213.1 318.7,205.0 331.3,197.3" stroke="#F3655C"/>
<path d="M80.6,346.8 85.6,346.7 88.2,346.5 90.7,346.2 95.7,345.5 98.2,345.0 103.2,343.9 108.2,342.5 113.2,340.9 120.7,338.1 125.7,335.9 130.8,333.6 135.8,331.2 140.8,328.5 145.8,325.8 150.8,322.9 158.3,318.3 168.4,311.9 178.4,305.2 188.4,298.3 205.9,285.8 241.0,260.1 256.1,249.3 271.1,238.6 283.6,229.8 296.2,221.3 308.7,213.0 321.2,205.0 331.3,198.8" stroke="#F4695C"/>
<path d="M80.6,346.8 85.6,346.7 88.2,346.5 90.7,346.3 95.7,345.6 98.2,345.2 103.2,344.1 108.2,342.8 113.2,341.2 118.2,339.5 123.2,337.5 128.3,335.4 133.3,333.0 138.3,330.6 143.3,327.9 148.3,325.2 153.3,322.3 160.8,317.8 170.9,311.4 180.9,304.7 190.9,297.8 208.5,285.4 258.6,249.0 273.6,238.4 286.2,229.7 298.7,221.2 308.7,214.6 321.2,206.5 331.3,200.3" stroke="#F66E5C"/>
<path d="M80.6,346.8 85.6,346.7 88.2,346.5 90.7,346.3 95.7,345.7 98.2,345.3 103.2,344.3 108.2,343.0 113.2,341.5 118.2,339.8 123.2,338.0 128.3,335.9 133.3,333.6 138.3,331.2 143.3,328.7 148.3,326.0 153.3,323.2 160.8,318.7 168.4,314.1 175.9,309.2 185.9,302.5 195.9,295.6 205.9,288.5 256.1,252.4 268.6,243.5 281.1,234.7 293.7,226.1 306.2,217.8 318.7,209.7 331.3,201.8" stroke="#F8745C"/>
<path d="M80.6,346.8 85.6,346.7 90.7,346.4 93.2,346.1 98.2,345.4 100.7,344.9 105.7,343.9 110.7,342.6 115.7,341.0 120.7,339.3 125.7,337.4 130.8,335.3 135.8,333.1 140.8,330.6 145.8,328.1 150.8,325.4 155.8,322.6 163.3,318.1 173.4,311.9 180.9,307.0 190.9,300.3 200.9,293.4 211.0,286.3 258.6,252.1 281.1,236.3 293.7,227.7 306.2,219.3 318.7,211.2 331.3,203.3" stroke="#F9785D"/>
<path d="M80.6,346.8 85.6,346.7 90.7,346.4 93.2,346.2 98.2,345.5 100.7,345.1 105.7,344.1 110.7,342.8 115.7,341.4 120.7,339.7 125.7,337.9 130.8,335.8 135.8,333.6 140.8,331.3 145.8,328.8 150.8,326.2 158.3,322.0 165.8,317.6 175.9,311.4 183.4,306.5 193.4,299.8 203.4,292.9 213.5,285.9 261.1,251.9 283.6,236.1 296.2,227.5 308.7,219.2 321.2,211.0 331.3,204.7" stroke="#FA7D5E"/>
<path d="M80.6,346.8 85.6,346.7 90.7,346.4 95.7,345.9 98.2,345.6 103.2,344.7 108.2,343.7 113.2,342.4 118.2,340.9 123.2,339.2 128.3,337.3 133.3,335.3 138.3,333.1 143.3,330.7 148.3,328.2 153.3,325.6 158.3,322.8 165.8,318.5 175.9,312.4 185.9,306.0 195.9,299.3 205.9,292.5 216.0,285.5 261.1,253.4 283.6,237.6 296.2,229.0 308.7,220.7 321.2,212.5 331.3,206.2" stroke="#FA815F"/>
<path d="M80.6,346.8 85.6,346.7 90.7,346.5 95.7,346.0 98.2,345.7 103.2,344.9 108.2,343.8 113.2,342.6 118.2,341.2 123.2,339.6 128.3,337.8 133.3,335.8 138.3,333.6 143.3,331.3 148.3,328.9 153.3,326.3 160.8,322.2 168.4,317.9 178.4,311.8 188.4,305.4 198.4,298.8 208.5,292.0 218.5,285.0 263.6,253.0 286.2,237.3 298.7,228.8 308.7,222.1 321.2,214.0 331.3,207.6" stroke="#FB8761"/>
<path d="M80.6,346.8 85.6,346.7 90.7,346.5 95.7,346.1 100.7,345.4 103.2,345.0 108.2,344.0 113.2,342.9 118.2,341.5 123.2,339.9 128.3,338.2 133.3,336.3 138.3,334.2 143.3,331.9 148.3,329.6 153.3,327.1 160.8,323.1 168.4,318.8 178.4,312.8 188.4,306.5 200.9,298.3 211.0,291.5 221.0,284.6 266.1,252.7 288.7,237.1 301.2,228.6 311.2,221.9 321.2,215.4 331.3,209.0" stroke="#FC8A62"/>
<path d="M80.6,346.8 85.6,346.7 90.7,346.5 95.7,346.1 100.7,345.5 105.7,344.7 110.7,343.7 115.7,342.4 120.7,341.0 125.7,339.4 130.8,337.7 135.8,335.7 140.8,333.6 145.8,331.4 150.8,329.0 155.8,326.5 163.3,322.5 170.9,318.2 180.9,312.3 190.9,306.0 203.4,297.8 213.5,291.0 223.5,284.1 268.6,252.4 288.7,238.5 301.2,230.0 311.2,223.4 321.2,216.8 331.3,210.4" stroke="#FC9065"/>
<path d="M80.6,346.8 85.6,346.8 90.7,346.6 95.7,346.2 100.7,345.6 105.7,344.8 110.7,343.8 115.7,342.7 120.7,341.3 125.7,339.8 130.8,338.1 135.8,336.2 140.8,334.2 145.8,332.0 150.8,329.6 155.8,327.2 163.3,323.3 173.4,317.7 183.4,311.7 193.4,305.4 205.9,297.3 216.0,290.5 226.0,283.6 271.1,252.1 291.2,238.2 311.2,224.8 321.2,218.2 331.3,211.8" stroke="#FD9668"/>
<path d="M80.6,346.8 85.6,346.8 90.7,346.6 95.7,346.2 100.7,345.7 105.7,344.9 110.7,344.0 115.7,342.9 120.7,341.6 125.7,340.1 130.8,338.5 135.8,336.6 143.3,333.6 148.3,331.4 153.3,329.1 158.3,326.6 165.8,322.7 175.9,317.1 185.9,311.2 195.9,304.9 208.5,296.7 218.5,290.0 228.5,283.2 273.6,251.7 293.7,237.9 313.7,224.5 331.3,213.2" stroke="#FD9A6A"/>
<path d="M80.6,346.8 85.6,346.8 90.7,346.6 95.7,346.3 100.7,345.8 105.7,345.1 110.7,344.2 115.7,343.1 120.7,341.9 125.7,340.4 130.8,338.8 135.8,337.1 143.3,334.1 148.3,332.0 153.3,329.7 158.3,327.3 165.8,323.5 175.9,318.0 185.9,312.1 195.9,305.9 208.5,297.9 218.5,291.2 231.0,282.7 276.1,251.4 293.7,239.3 313.7,225.9 331.3,214.5" stroke="#FE9F6D"/>
<path d="M80.6,346.8 88.2,346.7 93.2,346.5 98.2,346.1 103.2,345.5 108.2,344.8 113.2,343.8 118.2,342.7 123.2,341.4 128.3,340.0 133.3,338.4 138.3,336.6 145.8,333.6 150.8,331.4 155.8,329.1 160.8,326.7 168.4,322.9 178.4,317.4 188.4,311.5 200.9,303.8 213.5,295.7 223.5,289.0 236.0,280.5 278.6,251.0 296.2,239.0 313.7,227.3 331.3,215.9" stroke="#FEA36F"/>
<path d="M80.6,346.8 88.2,346.7 93.2,346.5 98.2,346.1 103.2,345.6 108.2,344.9 113.2,344.0 118.2,342.9 123.2,341.7 128.3,340.3 133.3,338.7 138.3,337.0 145.8,334.1 150.8,332.0 155.8,329.8 160.8,327.4 168.4,323.6 178.4,318.2 188.4,312.5 200.9,304.8 213.5,296.8 223.5,290.2 236.0,281.7 281.1,250.6 298.7,238.7 316.2,227.0 331.3,217.2" stroke="#FEA973"/>
<path d="M80.6,346.8 88.2,346.7 93.2,346.5 98.2,346.2 103.2,345.7 108.2,345.0 113.2,344.2 118.2,343.1 123.2,342.0 128.3,340.6 133.3,339.1 138.3,337.4 145.8,334.6 150.8,332.5 155.8,330.3 160.8,328.0 168.4,324.3 178.4,319.0 183.4,316.2 190.9,311.9 203.4,304.3 216.0,296.3 226.0,289.7 238.5,281.2 281.1,251.9 298.7,240.0 316.2,228.3 331.3,218.5" stroke="#FEAE77"/>
<path d="M80.6,346.8 88.2,346.7 93.2,346.6 98.2,346.2 103.2,345.8 108.2,345.1 113.2,344.3 118.2,343.3 125.7,341.6 130.8,340.2 135.8,338.6 140.8,336.9 148.3,334.1 153.3,332.0 158.3,329.8 163.3,327.5 170.9,323.8 180.9,318.5 185.9,315.7 193.4,311.3 205.9,303.7 218.5,295.7 228.5,289.1 241.0,280.7 283.6,251.5 301.2,239.6 316.2,229.6 331.3,219.8" stroke="#FEB27A"/>
<path d="M80.6,346.8 88.2,346.7 93.2,346.6 98.2,346.3 103.2,345.8 110.7,344.9 115.7,344.0 120.7,343.0 125.7,341.8 130.8,340.5 135.8,339.0 140.8,337.3 148.3,334.5 153.3,332.5 158.3,330.4 163.3,328.1 170.9,324.5 180.9,319.3 185.9,316.5 193.4,312.2 205.9,304.7 218.5,296.8 231.0,288.6 243.5,280.2 286.2,251.1 303.7,239.3 318.7,229.3 331.3,221.1" stroke="#FEB77E"/>
<path d="M80.6,346.8 88.2,346.7 93.2,346.6 98.2,346.3 103.2,345.9 110.7,345.0 115.7,344.2 120.7,343.2 125.7,342.0 130.8,340.7 135.8,339.3 140.8,337.7 148.3,335.0 153.3,333.0 160.8,329.8 165.8,327.5 173.4,323.9 183.4,318.7 188.4,315.9 195.9,311.6 208.5,304.1 221.0,296.2 233.5,288.1 246.1,279.7 288.7,250.7 303.7,240.5 318.7,230.6 331.3,222.4" stroke="#FEBB81"/>
<path d="M80.6,346.8 88.2,346.8 93.2,346.6 98.2,346.3 103.2,345.9 110.7,345.1 115.7,344.3 120.7,343.4 125.7,342.3 130.8,341.0 135.8,339.6 140.8,338.0 148.3,335.4 153.3,333.5 160.8,330.4 165.8,328.2 173.4,324.6 183.4,319.4 188.4,316.7 195.9,312.5 208.5,305.1 216.0,300.4 223.5,295.7 236.0,287.5 248.6,279.2 291.2,250.3 306.2,240.1 318.7,231.8 331.3,223.7" stroke="#FEC185"/>
<path d="M80.6,346.8 88.2,346.8 93.2,346.6 100.7,346.2 105.7,345.8 110.7,345.2 115.7,344.4 120.7,343.5 125.7,342.5 130.8,341.3 135.8,339.9 140.8,338.4 148.3,335.9 153.3,334.0 160.8,330.9 165.8,328.7 173.4,325.2 183.4,320.2 188.4,317.5 195.9,313.4 208.5,306.0 216.0,301.4 223.5,296.7 233.5,290.3 246.1,282.0 303.7,243.1 318.7,233.1 331.3,224.9" stroke="#FEC488"/>
<path d="M80.6,346.8 88.2,346.8 93.2,346.6 100.7,346.2 105.7,345.8 113.2,344.9 118.2,344.1 123.2,343.2 128.3,342.1 133.3,340.9 138.3,339.5 143.3,337.9 150.8,335.4 155.8,333.5 163.3,330.4 168.4,328.2 175.9,324.7 185.9,319.6 190.9,316.9 198.4,312.8 211.0,305.4 218.5,300.9 226.0,296.1 236.0,289.7 248.6,281.5 303.7,244.3 318.7,234.3 331.3,226.2" stroke="#FECA8D"/>
<path d="M80.6,346.8 88.2,346.8 93.2,346.7 100.7,346.3 105.7,345.9 113.2,345.0 118.2,344.3 123.2,343.4 128.3,342.3 133.3,341.1 138.3,339.8 143.3,338.3 150.8,335.8 155.8,333.9 163.3,330.9 168.4,328.8 175.9,325.3 185.9,320.3 190.9,317.7 198.4,313.6 211.0,306.4 218.5,301.8 226.0,297.1 238.5,289.1 251.1,280.9 306.2,243.9 318.7,235.6 331.3,227.4" stroke="#FECF92"/>
<path d="M80.6,346.8 93.2,346.7 100.7,346.3 105.7,345.9 113.2,345.1 118.2,344.4 123.2,343.6 128.3,342.5 133.3,341.4 138.3,340.1 143.3,338.6 150.8,336.2 155.8,334.4 163.3,331.4 168.4,329.3 175.9,325.9 180.9,323.5 188.4,319.8 193.4,317.1 200.9,313.0 213.5,305.8 221.0,301.2 228.5,296.6 241.0,288.6 253.6,280.4 306.2,245.1 318.7,236.8 331.3,228.6" stroke="#FED395"/>
<path d="M80.6,346.8 88.2,346.8 95.7,346.6 103.2,346.2 108.2,345.8 115.7,344.9 120.7,344.1 125.7,343.2 130.8,342.2 135.8,341.0 140.8,339.7 145.8,338.2 153.3,335.7 158.3,333.9 165.8,330.9 170.9,328.8 178.4,325.4 183.4,323.0 190.9,319.2 195.9,316.5 203.4,312.4 216.0,305.2 223.5,300.6 231.0,296.0 243.5,288.0 256.1,279.8 308.7,244.6 331.3,229.8" stroke="#FED89A"/>
<path d="M80.6,346.8 88.2,346.8 95.7,346.6 103.2,346.2 108.2,345.8 115.7,345.0 120.7,344.3 125.7,343.4 130.8,342.4 135.8,341.2 140.8,339.9 145.8,338.5 153.3,336.1 158.3,334.3 165.8,331.4 170.9,329.3 178.4,326.0 183.4,323.6 190.9,319.9 195.9,317.3 203.4,313.2 216.0,306.1 223.5,301.6 231.0,297.0 243.5,289.0 258.6,279.2 308.7,245.8 331.3,231.0" stroke="#FDDC9E"/>
<path d="M80.6,346.8 88.2,346.8 95.7,346.6 103.2,346.3 108.2,345.9 115.7,345.1 120.7,344.4 125.7,343.6 130.8,342.6 135.8,341.5 140.8,340.2 145.8,338.8 153.3,336.5 158.3,334.7 165.8,331.9 170.9,329.9 178.4,326.6 183.4,324.3 190.9,320.6 195.9,318.0 203.4,314.0 216.0,306.9 223.5,302.5 231.0,297.9 243.5,290.1 258.6,280.3 273.6,270.4 311.2,245.3 331.3,232.2" stroke="#FDE2A3"/>
<path d="M80.6,346.8 88.2,346.8 95.7,346.6 103.2,346.3 108.2,346.0 115.7,345.2 120.7,344.5 125.7,343.7 130.8,342.8 135.8,341.7 143.3,339.8 148.3,338.4 155.8,336.0 160.8,334.3 168.4,331.4 173.4,329.3 180.9,326.0 185.9,323.7 193.4,320.0 198.4,317.4 205.9,313.4 218.5,306.3 226.0,301.9 233.5,297.3 246.1,289.5 261.1,279.7 276.1,269.8 311.2,246.5 331.3,233.4" stroke="#FDE7A9"/>
<path d="M80.6,346.8 88.2,346.8 95.7,346.7 103.2,346.3 108.2,346.0 115.7,345.3 120.7,344.6 128.3,343.4 133.3,342.5 138.3,341.3 143.3,340.1 148.3,338.7 155.8,336.4 160.8,334.7 168.4,331.9 173.4,329.9 180.9,326.6 185.9,324.3 193.4,320.7 198.4,318.1 205.9,314.2 218.5,307.2 226.0,302.8 233.5,298.2 248.6,288.9 263.6,279.2 313.7,246.0 331.3,234.5" stroke="#FDEBAC"/>
<path d="M80.6,346.8 88.2,346.8 95.7,346.7 103.2,346.4 108.2,346.1 115.7,345.4 120.7,344.7 128.3,343.6 133.3,342.6 138.3,341.6 143.3,340.4 148.3,339.0 155.8,336.7 160.8,335.1 168.4,332.3 173.4,330.4 180.9,327.2 185.9,324.9 193.4,321.3 198.4,318.8 205.9,314.9 213.5,310.8 221.0,306.6 228.5,302.2 236.0,297.6 251.1,288.3 266.1,278.6 313.7,247.1 331.3,235.7" stroke="#FCF0B2"/>
<path d="M80.6,346.8 95.7,346.7 103.2,346.4 108.2,346.1 115.7,345.4 120.7,344.9 128.3,343.7 133.3,342.8 138.3,341.8 145.8,340.0 150.8,338.6 158.3,336.3 163.3,334.6 170.9,331.8 175.9,329.8 183.4,326.6 188.4,324.4 195.9,320.8 200.9,318.3 208.5,314.3 221.0,307.4 228.5,303.0 236.0,298.5 251.1,289.2 266.1,279.6 331.3,236.8" stroke="#FCF4B6"/>
<path d="M80.6,346.8 95.7,346.7 103.2,346.4 108.2,346.1 115.7,345.5 120.7,345.0 128.3,343.9 133.3,343.0 140.8,341.4 145.8,340.2 150.8,338.9 158.3,336.6 163.3,335.0 170.9,332.3 175.9,330.3 183.4,327.2 188.4,324.9 195.9,321.4 200.9,318.9 208.5,315.1 216.0,311.0 223.5,306.8 231.0,302.4 238.5,297.9 253.6,288.6 268.6,279.0 331.3,237.9" stroke="#FCF9BB"/>
<path d="M80.6,346.8 90.7,346.8 98.2,346.6 105.7,346.3 110.7,346.0 118.2,345.3 123.2,344.7 128.3,344.0 133.3,343.2 140.8,341.7 145.8,340.5 150.8,339.2 158.3,337.0 163.3,335.4 170.9,332.7 175.9,330.8 183.4,327.7 188.4,325.5 195.9,322.0 200.9,319.6 208.5,315.8 216.0,311.8 223.5,307.6 231.0,303.3 238.5,298.8 253.6,289.6 268.6,280.0 283.6,270.3 331.3,239.0" stroke="#FCFDBF"/>
</g>
<g class="cv" clip-path="url(#c2)">
<path d="M367.0,346.8 369.5,59.8 372.0,57.8 374.6,56.7 377.1,55.9 379.6,55.3 384.6,54.4 392.1,53.4 399.6,52.8 409.6,52.1 419.7,51.6 434.7,51.1 449.7,50.7 467.3,50.3 489.8,50.0 545.0,49.5 617.7,49.2" stroke="#000004"/>
<path d="M367.0,346.8 369.5,90.2 372.0,83.1 374.6,78.9 377.1,75.9 379.6,73.6 382.1,71.7 384.6,70.1 387.1,68.8 389.6,67.6 392.1,66.5 394.6,65.6 399.6,64.0 402.1,63.3 407.1,62.0 412.1,60.9 417.2,60.0 427.2,58.4 439.7,56.8 454.8,55.4 469.8,54.3 487.3,53.2 507.4,52.4 529.9,51.6 555.0,51.0 585.1,50.4 617.7,50.0" stroke="#010106"/>
<path d="M367.0,346.8 369.5,117.4 372.0,106.1 374.6,99.4 377.1,94.5 379.6,90.8 382.1,87.7 384.6,85.1 387.1,82.8 389.6,80.8 392.1,79.1 394.6,77.5 397.1,76.1 399.6,74.8 402.1,73.6 407.1,71.4 409.6,70.5 414.7,68.8 419.7,67.3 424.7,65.9 429.7,64.7 437.2,63.1 442.2,62.2 449.7,60.9 457.3,59.8 464.8,58.8 479.8,57.1 497.4,55.6 517.4,54.3 540.0,53.1 562.5,52.2 587.6,51.4 617.7,50.8" stroke="#02020B"/>
<path d="M367.0,346.8 369.5,141.7 372.0,127.2 374.6,118.3 377.1,111.9 379.6,106.8 382.1,102.7 384.6,99.2 387.1,96.1 389.6,93.5 392.1,91.1 394.6,88.9 397.1,86.9 399.6,85.2 402.1,83.5 407.1,80.6 409.6,79.3 414.7,76.9 419.7,74.8 424.7,72.9 429.7,71.2 434.7,69.7 439.7,68.3 444.7,67.0 449.7,65.9 457.3,64.3 464.8,62.9 472.3,61.7 479.8,60.6 487.3,59.6 494.9,58.7 504.9,57.7 522.4,56.1 542.5,54.7 565.0,53.5 590.1,52.4 617.7,51.5" stroke="#03030F"/>
<path d="M367.0,346.8 369.5,163.4 372.0,146.4 374.6,135.8 377.1,128.0 379.6,121.9 382.1,116.9 384.6,112.5 387.1,108.8 389.6,105.5 392.1,102.5 394.6,99.8 397.1,97.4 399.6,95.1 402.1,93.1 404.6,91.2 407.1,89.4 412.1,86.2 414.7,84.7 419.7,82.1 424.7,79.7 429.7,77.5 434.7,75.6 439.7,73.8 444.7,72.2 452.2,70.1 457.3,68.8 464.8,67.0 469.8,65.9 477.3,64.5 484.8,63.1 492.4,62.0 499.9,60.9 509.9,59.6 517.4,58.7 527.4,57.7 537.5,56.8 547.5,56.0 567.5,54.6 592.6,53.3 617.7,52.3" stroke="#050416"/>
<path d="M367.0,346.8 369.5,182.9 372.0,163.9 374.6,151.9 377.1,143.1 379.6,136.0 382.1,130.2 384.6,125.2 387.1,120.8 389.6,116.9 392.1,113.4 394.6,110.3 397.1,107.4 399.6,104.7 402.1,102.3 404.6,100.0 407.1,97.9 409.6,95.9 414.7,92.4 419.7,89.2 424.7,86.3 429.7,83.7 434.7,81.4 439.7,79.3 444.7,77.3 449.7,75.6 454.8,73.9 459.8,72.4 467.3,70.3 472.3,69.1 479.8,67.4 487.3,65.8 494.9,64.4 502.4,63.2 512.4,61.6 519.9,60.6 529.9,59.4 540.0,58.3 550.0,57.4 570.0,55.8 592.6,54.3 617.7,53.1" stroke="#06051A"/>
<path d="M367.0,346.8 369.5,200.2 372.0,179.9 374.6,166.8 377.1,157.1 379.6,149.3 382.1,142.8 384.6,137.1 387.1,132.2 389.6,127.8 392.1,123.9 394.6,120.3 397.1,117.0 399.6,114.0 402.1,111.2 404.6,108.6 407.1,106.2 409.6,103.9 412.1,101.8 414.7,99.8 419.7,96.1 424.7,92.8 429.7,89.8 434.7,87.1 439.7,84.6 444.7,82.4 449.7,80.3 454.8,78.4 462.3,75.8 467.3,74.2 474.8,72.0 479.8,70.7 487.3,68.9 494.9,67.2 502.4,65.7 509.9,64.4 517.4,63.2 524.9,62.0 535.0,60.7 552.5,58.7 562.5,57.7 572.6,56.8 582.6,56.0 595.1,55.2 617.7,53.9" stroke="#090720"/>
<path d="M367.0,346.8 369.5,215.8 372.0,194.5 374.6,180.6 377.1,170.1 379.6,161.7 382.1,154.6 384.6,148.4 387.1,143.0 389.6,138.2 392.1,133.8 394.6,129.9 397.1,126.2 399.6,122.9 402.1,119.8 404.6,116.9 407.1,114.1 409.6,111.6 412.1,109.2 414.7,107.0 417.2,104.8 422.2,100.9 427.2,97.4 432.2,94.2 437.2,91.2 442.2,88.5 447.2,86.1 452.2,83.8 457.3,81.7 464.8,78.9 469.8,77.1 477.3,74.7 482.3,73.3 489.8,71.3 497.4,69.4 504.9,67.8 512.4,66.3 519.9,64.9 527.4,63.6 537.5,62.1 545.0,61.1 555.0,59.9 565.0,58.8 575.1,57.8 595.1,56.1 617.7,54.6" stroke="#0C0926"/>
<path d="M367.0,346.8 369.5,229.7 372.0,207.8 374.6,193.3 377.1,182.3 379.6,173.3 382.1,165.7 384.6,159.1 387.1,153.3 389.6,148.1 392.1,143.4 394.6,139.1 397.1,135.1 399.6,131.4 402.1,128.0 404.6,124.8 407.1,121.9 409.6,119.1 412.1,116.4 414.7,113.9 417.2,111.6 422.2,107.3 424.7,105.2 429.7,101.5 434.7,98.1 439.7,95.0 444.7,92.1 449.7,89.5 454.8,87.0 459.8,84.8 464.8,82.7 469.8,80.7 474.8,78.9 482.3,76.4 487.3,74.9 494.9,72.8 502.4,70.9 509.9,69.1 517.4,67.5 524.9,66.0 532.5,64.7 540.0,63.5 547.5,62.4 557.5,61.0 575.1,59.0 585.1,58.0 595.1,57.1 605.1,56.3 617.7,55.4" stroke="#0E0B2B"/>
<path d="M367.0,346.8 369.5,242.1 372.0,219.9 374.6,205.0 377.1,193.6 379.6,184.2 382.1,176.2 384.6,169.3 387.1,163.1 389.6,157.5 392.1,152.5 394.6,147.8 397.1,143.6 399.6,139.6 402.1,136.0 404.6,132.5 407.1,129.3 409.6,126.3 412.1,123.4 417.2,118.2 419.7,115.7 424.7,111.2 427.2,109.2 432.2,105.3 437.2,101.7 442.2,98.4 447.2,95.4 452.2,92.6 457.3,90.0 462.3,87.6 467.3,85.4 472.3,83.3 477.3,81.4 484.8,78.7 489.8,77.0 497.4,74.8 504.9,72.7 512.4,70.8 519.9,69.1 527.4,67.5 535.0,66.1 542.5,64.8 550.0,63.6 560.0,62.1 567.5,61.1 577.6,59.9 587.6,58.8 597.6,57.8 617.7,56.2" stroke="#120D31"/>
<path d="M367.0,346.8 369.5,253.2 372.0,231.0 374.6,215.9 377.1,204.1 379.6,194.4 382.1,186.1 384.6,178.8 387.1,172.4 389.6,166.5 392.1,161.2 394.6,156.3 397.1,151.7 399.6,147.5 402.1,143.6 404.6,140.0 407.1,136.5 409.6,133.3 412.1,130.2 414.7,127.3 417.2,124.6 422.2,119.5 424.7,117.1 429.7,112.7 432.2,110.6 437.2,106.8 442.2,103.2 447.2,99.9 452.2,96.9 457.3,94.1 462.3,91.4 467.3,89.0 472.3,86.7 477.3,84.6 482.3,82.6 489.8,79.9 494.9,78.2 502.4,75.9 507.4,74.4 514.9,72.4 522.4,70.6 529.9,68.9 537.5,67.4 545.0,66.0 552.5,64.7 560.0,63.5 567.5,62.4 577.6,61.0 587.6,59.8 597.6,58.8 617.7,57.0" stroke="#140E36"/>
<path d="M367.0,346.8 369.5,263.1 372.0,241.1 374.6,225.9 377.1,214.0 379.6,204.0 382.1,195.4 384.6,187.9 387.1,181.2 389.6,175.0 392.1,169.5 394.6,164.3 397.1,159.6 399.6,155.1 402.1,151.0 404.6,147.1 407.1,143.5 409.6,140.0 412.1,136.8 417.2,130.8 419.7,128.0 424.7,122.8 427.2,120.4 432.2,115.9 434.7,113.7 439.7,109.8 444.7,106.1 449.7,102.7 454.8,99.5 459.8,96.6 464.8,93.9 469.8,91.3 474.8,89.0 479.8,86.7 484.8,84.7 492.4,81.8 497.4,80.0 504.9,77.5 509.9,76.0 517.4,73.9 524.9,72.0 532.5,70.2 540.0,68.6 547.5,67.1 555.0,65.7 562.5,64.4 570.0,63.3 580.1,61.8 597.6,59.7 607.6,58.7 617.7,57.7" stroke="#180F3D"/>
<path d="M367.0,346.8 369.5,272.0 372.0,250.4 374.6,235.2 377.1,223.1 379.6,213.0 382.1,204.2 384.6,196.5 387.1,189.5 389.6,183.2 392.1,177.4 394.6,172.1 397.1,167.1 399.6,162.5 402.1,158.1 404.6,154.1 407.1,150.2 409.6,146.6 412.1,143.2 414.7,139.9 419.7,133.9 422.2,131.0 427.2,125.8 429.7,123.3 434.7,118.7 437.2,116.6 442.2,112.5 447.2,108.7 452.2,105.2 457.3,102.0 462.3,98.9 467.3,96.1 472.3,93.5 477.3,91.0 482.3,88.7 487.3,86.5 494.9,83.5 499.9,81.7 507.4,79.1 512.4,77.5 519.9,75.3 524.9,73.9 532.5,72.0 540.0,70.2 547.5,68.6 555.0,67.1 562.5,65.7 570.0,64.5 580.1,63.0 587.6,61.9 597.6,60.6 607.6,59.5 617.7,58.5" stroke="#1C1044"/>
<path d="M367.0,346.8 369.5,279.9 372.0,258.8 374.6,243.7 377.1,231.6 379.6,221.4 382.1,212.5 384.6,204.6 387.1,197.5 389.6,191.0 392.1,185.0 394.6,179.4 397.1,174.3 399.6,169.5 402.1,165.0 404.6,160.7 407.1,156.7 409.6,152.9 412.1,149.3 414.7,145.9 417.2,142.7 422.2,136.6 424.7,133.8 429.7,128.5 432.2,126.0 437.2,121.3 439.7,119.1 444.7,115.0 449.7,111.1 454.8,107.5 459.8,104.2 464.8,101.1 469.8,98.2 474.8,95.5 479.8,92.9 484.8,90.5 489.8,88.3 497.4,85.1 502.4,83.2 509.9,80.5 514.9,78.9 522.4,76.6 527.4,75.1 535.0,73.1 542.5,71.3 550.0,69.6 557.5,68.0 565.0,66.6 572.6,65.3 582.6,63.7 590.1,62.6 600.1,61.2 617.7,59.2" stroke="#1E1149"/>
<path d="M367.0,346.8 369.5,287.0 372.0,266.5 374.6,251.6 377.1,239.5 379.6,229.3 382.1,220.3 384.6,212.3 387.1,205.0 389.6,198.3 392.1,192.2 394.6,186.5 397.1,181.2 399.6,176.3 402.1,171.6 404.6,167.2 407.1,163.0 409.6,159.1 412.1,155.3 417.2,148.4 419.7,145.1 424.7,139.1 427.2,136.2 432.2,130.9 434.7,128.4 439.7,123.7 442.2,121.4 447.2,117.2 452.2,113.3 457.3,109.6 462.3,106.2 467.3,103.0 472.3,100.1 477.3,97.3 482.3,94.6 487.3,92.2 492.4,89.9 499.9,86.6 504.9,84.6 512.4,81.9 517.4,80.2 524.9,77.8 529.9,76.3 537.5,74.2 545.0,72.3 552.5,70.5 560.0,68.9 567.5,67.4 575.1,66.0 582.6,64.7 590.1,63.6 600.1,62.2 617.7,60.0" stroke="#221150"/>
<path d="M367.0,346.8 369.5,293.3 372.0,273.5 374.6,258.9 377.1,246.9 379.6,236.7 382.1,227.6 384.6,219.5 387.1,212.1 389.6,205.4 392.1,199.1 394.6,193.3 397.1,187.9 399.6,182.8 402.1,178.0 404.6,173.4 407.1,169.1 409.6,165.0 412.1,161.2 414.7,157.5 419.7,150.6 422.2,147.3 427.2,141.3 429.7,138.4 434.7,133.1 437.2,130.6 442.2,125.8 444.7,123.5 449.7,119.3 454.8,115.3 459.8,111.6 464.8,108.1 469.8,104.8 474.8,101.8 479.8,98.9 484.8,96.2 489.8,93.7 494.9,91.3 502.4,88.0 507.4,86.0 512.4,84.0 517.4,82.2 524.9,79.7 529.9,78.1 537.5,75.9 545.0,73.8 552.5,72.0 560.0,70.2 567.5,68.6 575.1,67.2 582.6,65.8 590.1,64.6 600.1,63.1 607.6,62.0 617.7,60.7" stroke="#251255"/>
<path d="M367.0,346.8 369.5,299.0 372.0,279.9 374.6,265.6 377.1,253.8 379.6,243.6 382.1,234.5 384.6,226.4 387.1,218.9 389.6,212.1 392.1,205.7 394.6,199.8 397.1,194.3 399.6,189.0 402.1,184.1 404.6,179.4 407.1,175.0 409.6,170.8 412.1,166.8 417.2,159.3 422.2,152.5 424.7,149.3 429.7,143.2 432.2,140.4 437.2,135.0 439.7,132.5 444.7,127.7 447.2,125.4 452.2,121.1 457.3,117.1 462.3,113.3 467.3,109.8 472.3,106.5 477.3,103.3 482.3,100.4 487.3,97.7 492.4,95.1 497.4,92.7 504.9,89.3 509.9,87.2 514.9,85.2 519.9,83.3 527.4,80.7 532.5,79.1 540.0,76.8 547.5,74.7 555.0,72.8 562.5,71.0 570.0,69.3 577.6,67.8 585.1,66.4 600.1,63.9 607.6,62.8 617.7,61.5" stroke="#2A115C"/>
<path d="M367.0,346.8 369.5,304.1 372.0,285.8 374.6,271.8 377.1,260.2 379.6,250.1 382.1,241.0 384.6,232.9 387.1,225.4 389.6,218.5 392.1,212.0 394.6,206.0 397.1,200.4 399.6,195.1 402.1,190.0 404.6,185.2 407.1,180.7 409.6,176.4 412.1,172.3 417.2,164.6 419.7,161.0 424.7,154.2 427.2,151.0 432.2,145.0 434.7,142.1 439.7,136.8 442.2,134.2 447.2,129.4 449.7,127.1 454.8,122.8 459.8,118.7 464.8,114.9 469.8,111.3 474.8,107.9 479.8,104.8 484.8,101.8 489.8,99.0 494.9,96.4 499.9,93.9 507.4,90.4 512.4,88.3 517.4,86.3 522.4,84.3 529.9,81.7 535.0,80.0 542.5,77.7 550.0,75.5 557.5,73.5 570.0,70.6 577.6,68.9 585.1,67.5 592.6,66.1 600.1,64.8 607.6,63.7 617.7,62.3" stroke="#2D1161"/>
<path d="M367.0,346.8 369.5,308.6 372.0,291.1 374.6,277.5 377.1,266.1 379.6,256.1 382.1,247.2 384.6,239.0 387.1,231.5 389.6,224.6 392.1,218.1 394.6,212.0 397.1,206.3 399.6,200.8 402.1,195.7 404.6,190.8 407.1,186.2 412.1,177.6 414.7,173.5 419.7,165.9 422.2,162.4 427.2,155.7 429.7,152.5 434.7,146.5 437.2,143.7 442.2,138.3 444.7,135.8 449.7,130.9 452.2,128.6 457.3,124.3 462.3,120.1 467.3,116.3 472.3,112.7 477.3,109.3 482.3,106.1 487.3,103.1 492.4,100.2 497.4,97.6 502.4,95.0 507.4,92.6 512.4,90.4 517.4,88.3 522.4,86.3 529.9,83.4 535.0,81.7 542.5,79.2 550.0,77.0 557.5,74.9 570.0,71.7 577.6,70.1 585.1,68.5 592.6,67.1 600.1,65.7 607.6,64.5 617.7,63.0" stroke="#331067"/>
<path d="M367.0,346.8 369.5,312.6 372.0,296.0 374.6,282.8 377.1,271.7 379.6,261.8 382.1,253.0 384.6,244.8 387.1,237.3 389.6,230.4 392.1,223.8 394.6,217.7 397.1,211.9 399.6,206.4 402.1,201.2 404.6,196.3 407.1,191.5 409.6,187.0 414.7,178.6 417.2,174.6 422.2,167.1 424.7,163.6 429.7,157.0 432.2,153.8 437.2,147.9 439.7,145.1 444.7,139.7 447.2,137.2 452.2,132.3 454.8,130.0 459.8,125.6 464.8,121.5 469.8,117.6 474.8,113.9 479.8,110.5 484.8,107.3 489.8,104.2 494.9,101.3 499.9,98.6 504.9,96.1 509.9,93.6 514.9,91.4 519.9,89.2 524.9,87.1 532.5,84.3 537.5,82.5 545.0,80.0 550.0,78.4 557.5,76.2 562.5,74.9 570.0,72.9 577.6,71.2 585.1,69.5 592.6,68.0 600.1,66.6 607.6,65.3 617.7,63.7" stroke="#38106C"/>
<path d="M367.0,346.8 369.5,316.3 372.0,300.4 374.6,287.7 377.1,276.8 379.6,267.2 382.1,258.4 384.6,250.3 387.1,242.9 389.6,235.9 392.1,229.3 394.6,223.2 397.1,217.3 399.6,211.8 402.1,206.5 404.6,201.5 407.1,196.7 412.1,187.7 417.2,179.4 419.7,175.5 424.7,168.2 427.2,164.7 432.2,158.1 434.7,155.0 439.7,149.1 442.2,146.3 447.2,140.9 449.7,138.4 454.8,133.5 457.3,131.2 462.3,126.8 467.3,122.7 472.3,118.8 477.3,115.1 482.3,111.6 487.3,108.3 492.4,105.3 497.4,102.4 502.4,99.6 507.4,97.0 512.4,94.6 517.4,92.2 522.4,90.0 527.4,87.9 535.0,85.0 540.0,83.2 547.5,80.7 552.5,79.1 560.0,76.8 565.0,75.4 572.6,73.5 580.1,71.7 587.6,70.0 595.1,68.5 602.6,67.0 617.7,64.5" stroke="#3B0F70"/>
<path d="M367.0,346.8 369.5,319.5 372.0,304.5 374.6,292.3 377.1,281.7 379.6,272.2 382.1,263.5 384.6,255.5 387.1,248.1 389.6,241.1 392.1,234.6 394.6,228.4 397.1,222.5 399.6,216.9 402.1,211.6 407.1,201.6 409.6,197.0 414.7,188.2 419.7,180.1 422.2,176.3 427.2,169.1 429.7,165.6 434.7,159.1 437.2,156.0 442.2,150.1 444.7,147.3 449.7,142.0 452.2,139.5 457.3,134.6 459.8,132.3 464.8,127.9 469.8,123.7 474.8,119.8 479.8,116.1 484.8,112.6 489.8,109.3 494.9,106.2 499.9,103.3 504.9,100.5 509.9,97.9 514.9,95.4 519.9,93.0 524.9,90.8 529.9,88.7 537.5,85.7 542.5,83.9 550.0,81.3 555.0,79.7 562.5,77.4 567.5,76.0 575.1,74.0 587.6,71.0 595.1,69.4 602.6,67.9 610.1,66.5 617.7,65.2" stroke="#400F74"/>
<path d="M367.0,346.8 369.5,322.4 372.0,308.2 374.6,296.4 377.1,286.1 379.6,276.9 382.1,268.4 384.6,260.5 387.1,253.1 389.6,246.2 392.1,239.6 394.6,233.4 397.1,227.5 399.6,221.9 402.1,216.5 407.1,206.5 409.6,201.7 414.7,192.8 417.2,188.6 422.2,180.7 424.7,176.9 429.7,169.8 432.2,166.4 437.2,160.0 439.7,156.9 444.7,151.1 447.2,148.3 452.2,143.0 454.8,140.4 459.8,135.6 462.3,133.3 467.3,128.8 472.3,124.7 477.3,120.7 482.3,117.0 487.3,113.5 492.4,110.2 497.4,107.1 502.4,104.1 507.4,101.3 512.4,98.6 517.4,96.1 522.4,93.7 527.4,91.5 532.5,89.4 540.0,86.4 550.0,82.7 555.0,81.0 562.5,78.7 567.5,77.2 575.1,75.1 587.6,72.0 595.1,70.3 602.6,68.8 610.1,67.3 617.7,66.0" stroke="#440F76"/>
<path d="M367.0,346.8 369.5,325.0 372.0,311.5 374.6,300.3 377.1,290.3 379.6,281.3 382.1,272.9 384.6,265.1 387.1,257.8 389.6,250.9 392.1,244.4 394.6,238.2 397.1,232.3 399.6,226.7 404.6,216.1 409.6,206.3 412.1,201.7 417.2,193.1 419.7,188.9 424.7,181.2 427.2,177.5 432.2,170.4 434.7,167.1 439.7,160.7 442.2,157.6 447.2,151.8 449.7,149.1 454.8,143.8 457.3,141.3 462.3,136.4 469.8,129.7 474.8,125.5 479.8,121.6 487.3,116.0 492.4,112.6 497.4,109.4 502.4,106.3 507.4,103.4 512.4,100.7 517.4,98.1 522.4,95.6 527.4,93.3 532.5,91.0 540.0,87.9 550.0,84.1 555.0,82.4 562.5,79.9 567.5,78.4 575.1,76.2 587.6,73.0 595.1,71.2 602.6,69.6 610.1,68.1 617.7,66.7" stroke="#491078"/>
<path d="M367.0,346.8 369.5,327.3 372.0,314.6 374.6,303.8 377.1,294.2 379.6,285.4 382.1,277.2 384.6,269.5 387.1,262.3 389.6,255.5 392.1,249.0 394.6,242.8 397.1,236.9 402.1,225.8 404.6,220.6 409.6,210.8 414.7,201.7 417.2,197.4 422.2,189.2 427.2,181.5 429.7,177.9 434.7,170.9 437.2,167.6 442.2,161.3 444.7,158.3 449.7,152.5 452.2,149.8 457.3,144.5 459.8,142.0 464.8,137.2 472.3,130.4 477.3,126.2 482.3,122.3 489.8,116.8 494.9,113.3 499.9,110.1 504.9,107.0 509.9,104.1 514.9,101.3 519.9,98.7 524.9,96.2 529.9,93.8 535.0,91.6 542.5,88.5 552.5,84.6 557.5,82.9 565.0,80.4 570.0,78.8 577.6,76.6 590.1,73.4 602.6,70.5 610.1,68.9 617.7,67.5" stroke="#4E117B"/>
<path d="M367.0,346.8 369.5,329.4 372.0,317.4 374.6,307.1 377.1,297.8 379.6,289.2 382.1,281.2 384.6,273.7 387.1,266.6 389.6,259.8 392.1,253.4 394.6,247.2 397.1,241.3 402.1,230.2 404.6,225.0 409.6,215.1 414.7,205.9 417.2,201.5 422.2,193.2 424.7,189.3 429.7,181.8 432.2,178.2 437.2,171.3 439.7,168.0 444.7,161.8 447.2,158.8 452.2,153.1 454.8,150.4 459.8,145.1 462.3,142.6 467.3,137.8 474.8,131.1 479.8,126.9 484.8,122.9 492.4,117.4 497.4,114.0 502.4,110.7 507.4,107.6 512.4,104.7 517.4,101.9 522.4,99.2 527.4,96.7 532.5,94.4 537.5,92.1 542.5,90.0 552.5,86.0 557.5,84.2 565.0,81.6 570.0,80.0 577.6,77.7 582.6,76.3 590.1,74.3 602.6,71.3 610.1,69.7 617.7,68.2" stroke="#51127C"/>
<path d="M367.0,346.8 369.5,331.2 372.0,320.0 374.6,310.2 377.1,301.2 379.6,292.8 382.1,285.0 384.6,277.6 387.1,270.6 389.6,263.9 394.6,251.4 399.6,239.9 404.6,229.2 407.1,224.2 412.1,214.6 417.2,205.6 419.7,201.3 424.7,193.2 427.2,189.3 432.2,181.9 434.7,178.4 439.7,171.6 442.2,168.4 447.2,162.2 449.7,159.2 454.8,153.6 457.3,150.8 462.3,145.6 469.8,138.3 477.3,131.6 482.3,127.5 487.3,123.5 494.9,118.0 499.9,114.5 504.9,111.2 509.9,108.1 514.9,105.2 519.9,102.4 524.9,99.7 529.9,97.2 535.0,94.8 540.0,92.5 545.0,90.4 555.0,86.4 560.0,84.6 567.5,82.0 572.6,80.3 580.1,78.1 585.1,76.6 592.6,74.6 605.1,71.6 617.7,68.9" stroke="#56147D"/>
<path d="M367.0,346.8 369.5,332.9 372.0,322.3 374.6,313.0 377.1,304.3 379.6,296.2 382.1,288.6 384.6,281.4 387.1,274.5 389.6,267.9 394.6,255.5 397.1,249.6 402.1,238.5 407.1,228.2 409.6,223.3 414.7,214.0 419.7,205.2 422.2,201.1 427.2,193.1 429.7,189.3 434.7,182.0 437.2,178.5 442.2,171.8 444.7,168.6 449.7,162.5 452.2,159.6 457.3,153.9 459.8,151.2 464.8,146.0 472.3,138.8 479.8,132.1 484.8,127.9 489.8,124.0 497.4,118.4 502.4,115.0 507.4,111.7 514.9,107.1 519.9,104.2 524.9,101.5 529.9,98.9 535.0,96.4 540.0,94.1 545.0,91.8 555.0,87.7 560.0,85.8 567.5,83.1 572.6,81.5 580.1,79.1 585.1,77.6 592.6,75.6 605.1,72.4 617.7,69.7" stroke="#59157E"/>
<path d="M367.0,346.8 369.5,334.3 372.0,324.5 374.6,315.6 377.1,307.2 379.6,299.4 382.1,292.0 384.6,284.9 389.6,271.6 394.6,259.3 397.1,253.5 402.1,242.5 407.1,232.1 409.6,227.2 414.7,217.9 419.7,209.0 422.2,204.8 427.2,196.8 429.7,192.9 434.7,185.5 437.2,182.0 442.2,175.2 444.7,171.9 449.7,165.7 452.2,162.7 457.3,157.0 464.8,148.9 472.3,141.5 479.8,134.7 484.8,130.4 489.8,126.3 497.4,120.6 502.4,117.1 507.4,113.7 512.4,110.5 517.4,107.5 522.4,104.6 527.4,101.9 532.5,99.2 537.5,96.8 542.5,94.4 547.5,92.2 557.5,88.1 562.5,86.1 570.0,83.4 580.1,80.2 585.1,78.6 592.6,76.5 605.1,73.2 617.7,70.4" stroke="#5D177F"/>
<path d="M367.0,346.8 369.5,335.7 372.0,326.4 374.6,317.9 377.1,310.0 379.6,302.4 382.1,295.2 387.1,281.6 392.1,269.0 397.1,257.3 399.6,251.7 404.6,241.0 409.6,231.0 412.1,226.2 417.2,217.1 422.2,208.5 424.7,204.4 429.7,196.4 432.2,192.7 437.2,185.4 439.7,181.9 444.7,175.2 447.2,172.0 452.2,165.8 454.8,162.8 459.8,157.2 467.3,149.2 474.8,141.8 482.3,135.0 487.3,130.7 492.4,126.7 499.9,121.0 504.9,117.4 509.9,114.1 517.4,109.3 522.4,106.4 527.4,103.5 532.5,100.9 537.5,98.3 542.5,95.9 547.5,93.6 557.5,89.3 562.5,87.4 570.0,84.6 580.1,81.2 585.1,79.6 592.6,77.4 605.1,74.1 617.7,71.1" stroke="#601880"/>
<path d="M367.0,346.8 369.5,336.8 372.0,328.2 374.6,320.1 377.1,312.5 379.6,305.2 384.6,291.4 389.6,278.6 394.6,266.6 399.6,255.3 402.1,249.9 407.1,239.6 412.1,229.9 414.7,225.3 419.7,216.3 424.7,207.9 427.2,203.8 432.2,196.1 434.7,192.3 439.7,185.2 442.2,181.7 447.2,175.1 449.7,172.0 454.8,165.8 462.3,157.3 469.8,149.3 477.3,142.0 484.8,135.2 489.8,131.0 494.9,126.9 502.4,121.3 507.4,117.7 512.4,114.3 519.9,109.6 524.9,106.6 529.9,103.8 535.0,101.1 540.0,98.6 545.0,96.2 550.0,93.9 560.0,89.6 570.0,85.7 580.1,82.2 585.1,80.6 592.6,78.3 597.6,76.9 605.1,74.9 617.7,71.8" stroke="#651A80"/>
<path d="M367.0,346.8 369.5,337.9 372.0,329.8 374.6,322.2 379.6,307.8 382.1,301.0 387.1,288.0 392.1,275.8 397.1,264.3 402.1,253.4 404.6,248.2 409.6,238.2 414.7,228.8 417.2,224.3 422.2,215.5 427.2,207.3 429.7,203.3 434.7,195.7 437.2,192.0 442.2,184.9 444.7,181.5 449.7,175.0 452.2,171.9 457.3,165.8 464.8,157.3 472.3,149.4 479.8,142.1 487.3,135.4 492.4,131.2 497.4,127.1 504.9,121.5 509.9,117.9 514.9,114.6 522.4,109.8 527.4,106.9 532.5,104.1 537.5,101.4 542.5,98.8 547.5,96.4 552.5,94.1 562.5,89.8 572.6,85.9 582.6,82.4 587.6,80.8 595.1,78.5 605.1,75.7 617.7,72.6" stroke="#6A1C81"/>
<path d="M367.0,346.8 369.5,338.8 372.0,331.3 377.1,317.1 382.1,303.6 387.1,291.0 392.1,279.0 394.6,273.2 399.6,262.2 404.6,251.7 407.1,246.6 412.1,236.9 417.2,227.7 419.7,223.2 424.7,214.7 429.7,206.6 432.2,202.7 437.2,195.2 439.7,191.6 444.7,184.6 447.2,181.3 452.2,174.8 459.8,165.7 467.3,157.3 474.8,149.5 482.3,142.2 489.8,135.5 497.4,129.3 504.9,123.5 509.9,119.9 514.9,116.4 522.4,111.6 527.4,108.5 532.5,105.6 537.5,102.9 542.5,100.3 547.5,97.8 552.5,95.4 557.5,93.1 562.5,91.0 572.6,87.0 582.6,83.4 587.6,81.7 595.1,79.4 605.1,76.5 617.7,73.3" stroke="#6D1D81"/>
<path d="M367.0,346.8 374.6,325.8 379.6,312.5 384.6,299.9 389.6,287.8 394.6,276.3 399.6,265.4 404.6,255.0 407.1,249.9 412.1,240.2 417.2,231.0 419.7,226.6 424.7,218.0 427.2,213.9 432.2,205.9 434.7,202.1 439.7,194.7 444.7,187.6 452.2,177.7 459.8,168.5 467.3,159.9 474.8,152.0 482.3,144.6 489.8,137.7 497.4,131.4 504.9,125.5 509.9,121.8 514.9,118.2 522.4,113.3 527.4,110.2 532.5,107.2 537.5,104.4 542.5,101.7 547.5,99.1 552.5,96.7 557.5,94.4 562.5,92.2 572.6,88.1 582.6,84.4 587.6,82.7 595.1,80.3 605.1,77.3 617.7,74.0" stroke="#721F81"/>
<path d="M367.0,346.8 377.1,321.0 382.1,308.5 387.1,296.5 392.1,284.9 397.1,273.8 402.1,263.3 407.1,253.1 409.6,248.2 414.7,238.8 419.7,229.8 422.2,225.4 427.2,217.0 429.7,213.0 434.7,205.2 442.2,194.1 447.2,187.2 454.8,177.4 462.3,168.2 469.8,159.8 477.3,151.9 484.8,144.5 492.4,137.7 499.9,131.4 507.4,125.5 512.4,121.8 517.4,118.3 524.9,113.4 529.9,110.3 535.0,107.3 542.5,103.1 547.5,100.5 552.5,98.0 557.5,95.7 562.5,93.4 572.6,89.2 582.6,85.4 587.6,83.7 595.1,81.2 605.1,78.1 617.7,74.7" stroke="#752181"/>
<path d="M367.0,346.8 369.5,341.1 379.6,316.7 384.6,304.8 389.6,293.3 394.6,282.2 399.6,271.5 404.6,261.2 409.6,251.4 417.2,237.4 422.2,228.6 429.7,216.1 437.2,204.4 444.7,193.5 449.7,186.7 457.3,177.0 464.8,167.9 472.3,159.5 479.8,151.7 487.3,144.4 494.9,137.7 502.4,131.4 509.9,125.5 514.9,121.8 519.9,118.3 527.4,113.4 532.5,110.3 537.5,107.4 545.0,103.2 550.0,100.6 555.0,98.1 560.0,95.7 565.0,93.5 575.1,89.3 585.1,85.5 595.1,82.1 605.1,78.9 617.7,75.4" stroke="#792282"/>
<path d="M367.0,346.8 369.5,341.7 372.0,336.1 382.1,312.8 387.1,301.4 392.1,290.3 397.1,279.6 404.6,264.2 409.6,254.4 414.7,245.0 422.2,231.6 427.2,223.2 434.7,211.2 439.7,203.6 447.2,192.9 452.2,186.1 459.8,176.5 467.3,167.6 474.8,159.3 482.3,151.5 489.8,144.3 497.4,137.6 504.9,131.3 512.4,125.5 519.9,120.1 527.4,115.0 532.5,111.8 537.5,108.8 545.0,104.6 550.0,101.9 555.0,99.4 560.0,96.9 565.0,94.6 575.1,90.3 585.1,86.5 595.1,82.9 605.1,79.7 610.1,78.3 617.7,76.2" stroke="#7E2482"/>
<path d="M367.0,346.8 369.5,342.3 372.0,337.0 389.6,298.2 394.6,287.5 399.6,277.1 407.1,262.1 412.1,252.6 417.2,243.4 422.2,234.6 427.2,226.1 434.7,214.1 439.7,206.4 447.2,195.6 452.2,188.8 459.8,179.1 467.3,170.1 474.8,161.6 482.3,153.8 489.8,146.4 497.4,139.6 504.9,133.2 512.4,127.3 519.9,121.8 527.4,116.6 532.5,113.4 537.5,110.3 545.0,106.0 550.0,103.2 555.0,100.6 560.0,98.1 565.0,95.8 575.1,91.4 585.1,87.4 595.1,83.8 605.1,80.5 610.1,79.0 617.7,76.9" stroke="#812581"/>
<path d="M367.0,346.8 369.5,342.7 372.0,337.9 377.1,327.4 392.1,295.3 399.6,279.8 404.6,269.8 409.6,260.2 414.7,250.8 419.7,241.9 424.7,233.2 429.7,224.9 437.2,213.0 442.2,205.5 449.7,194.9 454.8,188.1 462.3,178.6 469.8,169.6 477.3,161.3 484.8,153.5 492.4,146.2 499.9,139.4 507.4,133.0 514.9,127.1 522.4,121.6 529.9,116.5 535.0,113.3 540.0,110.2 547.5,105.9 552.5,103.2 557.5,100.6 562.5,98.1 567.5,95.8 577.6,91.4 587.6,87.4 597.6,83.8 607.6,80.6 617.7,77.6" stroke="#862781"/>
<path d="M367.0,346.8 369.5,343.2 372.0,338.6 374.6,333.8 379.6,323.6 394.6,292.4 402.1,277.4 407.1,267.7 412.1,258.2 417.2,249.1 422.2,240.3 427.2,231.8 432.2,223.7 439.7,212.0 444.7,204.6 452.2,194.1 457.3,187.4 464.8,178.0 472.3,169.1 479.8,160.8 487.3,153.1 494.9,145.9 502.4,139.1 509.9,132.8 517.4,127.0 524.9,121.5 532.5,116.4 537.5,113.2 542.5,110.2 550.0,105.8 555.0,103.1 560.0,100.5 567.5,96.9 577.6,92.4 587.6,88.4 597.6,84.7 607.6,81.3 617.7,78.3" stroke="#892881"/>
<path d="M367.0,346.8 369.5,343.6 372.0,339.4 374.6,334.8 379.6,325.1 394.6,294.7 399.6,284.8 404.6,275.1 409.6,265.6 414.7,256.4 419.7,247.4 424.7,238.8 429.7,230.4 434.7,222.4 442.2,210.9 447.2,203.6 454.8,193.3 459.8,186.7 467.3,177.3 472.3,171.4 479.8,163.1 487.3,155.2 494.9,147.9 502.4,141.0 509.9,134.6 517.4,128.7 524.9,123.1 532.5,117.9 537.5,114.6 542.5,111.5 550.0,107.1 555.0,104.4 560.0,101.7 567.5,98.0 577.6,93.4 587.6,89.3 597.6,85.5 607.6,82.1 617.7,79.0" stroke="#8E2A81"/>
<path d="M367.0,346.8 369.5,343.9 372.0,340.0 374.6,335.7 379.6,326.4 399.6,287.2 409.6,268.1 417.2,254.5 422.2,245.7 427.2,237.3 432.2,229.1 437.2,221.2 444.7,209.9 449.7,202.7 457.3,192.4 462.3,185.9 469.8,176.7 474.8,170.8 482.3,162.5 489.8,154.8 497.4,147.5 504.9,140.7 512.4,134.3 519.9,128.4 527.4,122.9 535.0,117.7 542.5,112.9 550.0,108.4 555.0,105.6 560.0,102.9 567.5,99.1 572.6,96.7 577.6,94.5 587.6,90.2 597.6,86.4 607.6,82.9 617.7,79.7" stroke="#932B80"/>
<path d="M367.0,346.8 369.5,344.2 372.0,340.6 374.6,336.5 377.1,332.2 382.1,323.1 402.1,284.7 412.1,266.1 419.7,252.7 424.7,244.1 429.7,235.7 434.7,227.7 439.7,219.9 447.2,208.8 452.2,201.7 459.8,191.5 464.8,185.1 472.3,176.0 477.3,170.2 484.8,162.0 492.4,154.3 499.9,147.1 507.4,140.3 514.9,134.0 522.4,128.1 529.9,122.6 537.5,117.5 545.0,112.7 552.5,108.2 557.5,105.4 562.5,102.8 570.0,99.0 575.1,96.6 580.1,94.3 587.6,91.1 597.6,87.2 607.6,83.6 617.7,80.4" stroke="#962C80"/>
<path d="M367.0,346.8 369.5,344.5 372.0,341.1 374.6,337.3 377.1,333.2 379.6,328.9 384.6,319.9 404.6,282.3 414.7,264.0 422.2,250.9 427.2,242.4 432.2,234.2 437.2,226.3 442.2,218.6 447.2,211.2 452.2,204.1 459.8,193.9 464.8,187.4 472.3,178.2 477.3,172.4 484.8,164.1 492.4,156.3 499.9,148.9 507.4,142.1 514.9,135.7 522.4,129.7 529.9,124.1 537.5,118.9 545.0,114.0 552.5,109.5 557.5,106.6 562.5,103.9 570.0,100.1 575.1,97.6 580.1,95.3 587.6,92.1 597.6,88.1 607.6,84.4 617.7,81.1" stroke="#9B2E7F"/>
<path d="M367.0,346.8 369.5,344.7 372.0,341.6 374.6,338.1 377.1,334.2 379.6,330.0 382.1,325.7 387.1,316.8 407.1,279.9 417.2,262.0 424.7,249.1 429.7,240.8 434.7,232.7 439.7,224.9 444.7,217.4 449.7,210.1 454.8,203.0 462.3,193.0 467.3,186.6 474.8,177.4 479.8,171.7 487.3,163.4 494.9,155.7 502.4,148.4 509.9,141.7 517.4,135.3 524.9,129.4 532.5,123.8 540.0,118.6 547.5,113.8 555.0,109.3 562.5,105.1 570.0,101.1 575.1,98.7 580.1,96.3 587.6,93.0 597.6,88.9 607.6,85.2 617.7,81.8" stroke="#9E2F7F"/>
<path d="M367.0,346.8 369.5,344.9 372.0,342.1 374.6,338.7 377.1,335.0 379.6,331.1 382.1,327.0 387.1,318.3 392.1,309.4 409.6,277.7 417.2,264.4 422.2,255.8 429.7,243.2 434.7,235.2 439.7,227.4 444.7,219.8 449.7,212.4 454.8,205.4 459.8,198.6 467.3,188.8 472.3,182.6 477.3,176.6 482.3,170.9 489.8,162.8 494.9,157.6 502.4,150.2 509.9,143.4 517.4,136.9 524.9,130.9 532.5,125.3 540.0,120.0 547.5,115.1 555.0,110.5 562.5,106.2 570.0,102.2 575.1,99.7 580.1,97.3 587.6,93.9 597.6,89.7 607.6,86.0 617.7,82.5" stroke="#A3307E"/>
<path d="M367.0,346.8 369.5,345.1 372.0,342.5 374.6,339.3 377.1,335.8 379.6,332.1 382.1,328.1 384.6,324.0 389.6,315.4 412.1,275.4 422.2,258.1 429.7,245.6 434.7,237.6 442.2,225.9 447.2,218.4 452.2,211.2 457.3,204.2 462.3,197.5 469.8,187.8 474.8,181.7 479.8,175.8 484.8,170.1 492.4,162.1 497.4,156.9 504.9,149.7 512.4,142.8 519.9,136.5 527.4,130.5 535.0,124.9 542.5,119.6 550.0,114.8 557.5,110.2 565.0,105.9 572.6,102.0 577.6,99.5 582.6,97.1 590.1,93.7 600.1,89.6 607.6,86.7 617.7,83.2" stroke="#A6317D"/>
<path d="M367.0,346.8 369.5,345.3 372.0,342.9 374.6,339.9 377.1,336.6 379.6,333.0 382.1,329.2 387.1,321.1 392.1,312.7 414.7,273.3 422.2,260.4 427.2,252.1 434.7,239.9 439.7,232.1 444.7,224.5 449.7,217.1 454.8,209.9 459.8,203.0 464.8,196.4 469.8,190.0 474.8,183.8 479.8,177.8 484.8,172.1 492.4,164.0 497.4,158.8 504.9,151.4 512.4,144.5 519.9,138.0 527.4,132.0 535.0,126.3 542.5,121.0 550.0,116.0 557.5,111.4 565.0,107.0 572.6,103.0 577.6,100.5 582.6,98.0 590.1,94.6 600.1,90.4 607.6,87.5 617.7,83.9" stroke="#AB337C"/>
<path d="M367.0,346.8 369.5,345.5 372.0,343.2 374.6,340.4 377.1,337.3 379.6,333.9 384.6,326.4 389.6,318.3 394.6,310.0 417.2,271.1 427.2,254.3 434.7,242.2 439.7,234.4 447.2,223.0 452.2,215.7 457.3,208.7 462.3,201.9 467.3,195.3 472.3,188.9 477.3,182.8 482.3,176.9 487.3,171.3 494.9,163.2 499.9,158.1 507.4,150.8 514.9,143.9 522.4,137.5 529.9,131.5 537.5,125.8 545.0,120.6 552.5,115.6 560.0,111.0 567.5,106.7 575.1,102.7 582.6,99.0 590.1,95.5 600.1,91.2 607.6,88.2 617.7,84.6" stroke="#B0357B"/>
<path d="M367.0,346.8 369.5,345.6 372.0,343.5 374.6,340.9 377.1,337.9 379.6,334.7 382.1,331.2 384.6,327.5 389.6,319.7 394.6,311.5 419.7,269.0 429.7,252.5 437.2,240.5 442.2,232.8 449.7,221.6 454.8,214.4 459.8,207.4 464.8,200.7 469.8,194.2 474.8,187.9 479.8,181.8 484.8,176.0 489.8,170.4 494.9,165.0 499.9,159.8 507.4,152.5 514.9,145.5 522.4,139.0 529.9,132.9 537.5,127.2 545.0,121.9 552.5,116.8 560.0,112.2 567.5,107.8 575.1,103.7 582.6,99.9 590.1,96.4 600.1,92.0 607.6,89.0 617.7,85.3" stroke="#B3367A"/>
<path d="M367.0,346.8 369.5,345.7 372.0,343.8 374.6,341.4 377.1,338.6 379.6,335.4 382.1,332.1 387.1,324.8 392.1,317.0 397.1,308.9 419.7,271.1 427.2,258.7 432.2,250.6 439.7,238.8 444.7,231.2 452.2,220.1 457.3,213.0 462.3,206.1 467.3,199.5 472.3,193.0 477.3,186.8 482.3,180.8 487.3,175.1 492.4,169.5 497.4,164.2 502.4,159.1 509.9,151.7 517.4,144.9 524.9,138.4 529.9,134.3 537.5,128.6 545.0,123.1 552.5,118.1 560.0,113.3 567.5,108.9 575.1,104.7 582.6,100.9 590.1,97.2 600.1,92.8 607.6,89.7 617.7,86.0" stroke="#B83779"/>
<path d="M367.0,346.8 369.5,345.9 372.0,344.1 374.6,341.8 377.1,339.1 379.6,336.2 382.1,332.9 387.1,325.9 392.1,318.4 399.6,306.4 422.2,269.0 429.7,256.8 434.7,248.8 442.2,237.1 447.2,229.6 454.8,218.7 459.8,211.6 464.8,204.8 469.8,198.2 474.8,191.9 479.8,185.7 484.8,179.8 489.8,174.1 494.9,168.6 499.9,163.3 504.9,158.3 512.4,151.0 519.9,144.2 527.4,137.8 532.5,133.8 540.0,128.0 547.5,122.6 555.0,117.6 562.5,112.9 570.0,108.5 577.6,104.4 585.1,100.5 592.6,97.0 600.1,93.6 607.6,90.5 617.7,86.7" stroke="#BC3978"/>
<path d="M367.0,346.8 369.5,346.0 372.0,344.3 374.6,342.2 377.1,339.7 379.6,336.8 382.1,333.7 384.6,330.4 389.6,323.4 392.1,319.6 397.1,311.9 404.6,299.8 424.7,266.9 432.2,254.8 437.2,247.0 447.2,231.7 454.8,220.7 462.3,210.3 467.3,203.5 472.3,197.0 477.3,190.7 482.3,184.6 487.3,178.8 492.4,173.1 499.9,165.1 504.9,159.9 512.4,152.6 519.9,145.7 527.4,139.2 532.5,135.2 540.0,129.3 547.5,123.9 555.0,118.8 562.5,114.0 570.0,109.5 577.6,105.3 585.1,101.4 592.6,97.8 600.1,94.4 607.6,91.2 617.7,87.3" stroke="#C03A76"/>
<path d="M367.0,346.8 369.5,346.0 372.0,344.5 374.6,342.5 377.1,340.1 379.6,337.4 382.1,334.5 384.6,331.3 387.1,328.0 392.1,320.9 399.6,309.4 407.1,297.4 427.2,264.9 437.2,249.0 447.2,233.8 454.8,222.8 462.3,212.3 467.3,205.5 472.3,199.0 477.3,192.6 482.3,186.5 489.8,177.7 494.9,172.2 502.4,164.2 507.4,159.1 514.9,151.8 519.9,147.2 527.4,140.7 532.5,136.5 540.0,130.6 547.5,125.1 555.0,119.9 562.5,115.1 570.0,110.6 577.6,106.3 585.1,102.4 592.6,98.7 600.1,95.2 607.6,92.0 617.7,88.0" stroke="#C53C74"/>
<path d="M367.0,346.8 369.5,346.1 372.0,344.7 374.6,342.9 377.1,340.6 379.6,338.0 382.1,335.2 384.6,332.2 387.1,328.9 392.1,322.0 394.6,318.4 399.6,310.8 407.1,299.1 427.2,266.8 437.2,251.0 447.2,235.8 452.2,228.4 457.3,221.2 464.8,210.8 469.8,204.2 474.8,197.7 479.8,191.4 484.8,185.4 492.4,176.7 497.4,171.1 504.9,163.2 509.9,158.2 517.4,151.0 522.4,146.5 529.9,140.0 535.0,135.9 542.5,130.0 550.0,124.5 557.5,119.4 565.0,114.6 572.6,110.1 580.1,105.9 587.6,102.0 595.1,98.3 602.6,94.9 610.1,91.7 617.7,88.7" stroke="#C83E73"/>
<path d="M367.0,346.8 369.5,346.2 372.0,344.9 374.6,343.2 377.1,341.0 379.6,338.6 382.1,335.9 384.6,333.0 387.1,329.8 389.6,326.6 392.1,323.1 397.1,315.9 404.6,304.6 412.1,292.7 429.7,264.8 442.2,245.3 452.2,230.4 459.8,219.7 467.3,209.4 472.3,202.8 477.3,196.4 482.3,190.2 487.3,184.2 492.4,178.4 497.4,172.8 504.9,164.9 509.9,159.8 517.4,152.5 522.4,147.9 529.9,141.4 535.0,137.2 542.5,131.3 550.0,125.7 557.5,120.5 565.0,115.7 572.6,111.1 580.1,106.8 587.6,102.9 595.1,99.1 602.6,95.7 610.1,92.4 617.7,89.4" stroke="#CD4071"/>
<path d="M367.0,346.8 369.5,346.3 372.0,345.1 374.6,343.4 377.1,341.4 379.6,339.1 382.1,336.5 384.6,333.7 387.1,330.7 389.6,327.5 394.6,320.7 402.1,309.8 409.6,298.3 429.7,266.7 439.7,251.1 447.2,239.8 452.2,232.4 457.3,225.2 462.3,218.2 469.8,208.0 474.8,201.4 479.8,195.1 484.8,189.0 489.8,183.0 494.9,177.3 499.9,171.8 507.4,163.9 512.4,158.9 519.9,151.7 524.9,147.1 532.5,140.6 537.5,136.5 545.0,130.6 552.5,125.1 560.0,120.0 565.0,116.7 572.6,112.1 580.1,107.8 587.6,103.7 595.1,100.0 602.6,96.4 610.1,93.1 617.7,90.1" stroke="#D0416F"/>
<path d="M367.0,346.8 369.5,346.3 372.0,345.2 374.6,343.7 377.1,341.8 379.6,339.6 382.1,337.1 384.6,334.4 387.1,331.5 389.6,328.4 392.1,325.2 397.1,318.4 404.6,307.4 412.1,296.0 432.2,264.6 442.2,249.2 449.7,238.0 454.8,230.7 459.8,223.6 464.8,216.6 472.3,206.5 477.3,200.1 482.3,193.8 487.3,187.7 492.4,181.9 497.4,176.2 502.4,170.7 509.9,162.9 514.9,157.9 522.4,150.8 527.4,146.3 535.0,139.9 540.0,135.8 547.5,130.0 552.5,126.3 560.0,121.1 565.0,117.8 572.6,113.1 580.1,108.7 587.6,104.6 595.1,100.8 602.6,97.2 610.1,93.9 617.7,90.7" stroke="#D5446D"/>
<path d="M367.0,346.8 369.5,346.4 372.0,345.4 374.6,343.9 377.1,342.1 379.6,340.0 382.1,337.7 384.6,335.1 387.1,332.3 392.1,326.2 397.1,319.5 404.6,308.8 412.1,297.5 434.7,262.6 444.7,247.3 454.8,232.6 459.8,225.4 464.8,218.5 472.3,208.4 477.3,201.9 482.3,195.6 487.3,189.5 492.4,183.6 497.4,177.8 502.4,172.3 509.9,164.4 514.9,159.4 522.4,152.2 527.4,147.7 535.0,141.2 540.0,137.0 547.5,131.2 552.5,127.5 560.0,122.2 565.0,118.8 572.6,114.1 580.1,109.6 587.6,105.5 595.1,101.6 602.6,98.0 610.1,94.6 617.7,91.4" stroke="#D8456C"/>
<path d="M367.0,346.8 369.5,346.4 372.0,345.5 374.6,344.2 377.1,342.5 379.6,340.5 382.1,338.2 384.6,335.7 387.1,333.0 389.6,330.1 392.1,327.1 394.6,323.9 399.6,317.2 407.1,306.5 414.7,295.2 437.2,260.5 447.2,245.4 457.3,230.8 467.3,216.9 474.8,206.9 479.8,200.5 484.8,194.2 489.8,188.2 494.9,182.3 499.9,176.7 504.9,171.2 512.4,163.4 517.4,158.4 524.9,151.3 529.9,146.8 537.5,140.4 542.5,136.3 550.0,130.5 555.0,126.8 562.5,121.5 567.5,118.2 575.1,113.5 582.6,109.1 590.1,105.0 595.1,102.4 602.6,98.7 610.1,95.3 617.7,92.1" stroke="#DC4869"/>
<path d="M367.0,346.8 369.5,346.5 372.0,345.6 374.6,344.4 377.1,342.8 379.6,340.9 382.1,338.7 384.6,336.3 387.1,333.7 389.6,330.9 394.6,324.9 397.1,321.7 402.1,314.9 409.6,304.2 417.2,292.9 437.2,262.3 447.2,247.3 457.3,232.7 467.3,218.7 474.8,208.7 479.8,202.2 484.8,195.9 489.8,189.9 494.9,184.0 499.9,178.3 504.9,172.8 512.4,164.9 517.4,159.9 524.9,152.7 529.9,148.1 537.5,141.6 542.5,137.5 550.0,131.6 555.0,127.9 562.5,122.6 567.5,119.3 575.1,114.5 582.6,110.0 590.1,105.9 595.1,103.2 602.6,99.5 610.1,96.0 617.7,92.8" stroke="#E04C67"/>
<path d="M367.0,346.8 369.5,346.5 372.0,345.7 374.6,344.5 377.1,343.0 379.6,341.2 382.1,339.2 384.6,336.9 387.1,334.4 389.6,331.7 394.6,325.8 397.1,322.7 402.1,316.1 409.6,305.5 417.2,294.4 439.7,260.3 449.7,245.4 459.8,230.9 469.8,217.1 477.3,207.1 482.3,200.7 487.3,194.5 492.4,188.5 497.4,182.7 502.4,177.1 507.4,171.6 514.9,163.8 519.9,158.9 524.9,154.1 529.9,149.5 537.5,142.9 542.5,138.7 550.0,132.8 555.0,129.0 562.5,123.7 567.5,120.3 575.1,115.4 582.6,110.9 590.1,106.7 595.1,104.0 602.6,100.3 610.1,96.7 617.7,93.4" stroke="#E34E65"/>
<path d="M367.0,346.8 369.5,346.5 372.0,345.8 374.6,344.7 377.1,343.3 379.6,341.6 382.1,339.6 384.6,337.4 387.1,335.0 389.6,332.4 392.1,329.6 397.1,323.6 399.6,320.5 404.6,313.8 412.1,303.2 419.7,292.2 442.2,258.3 452.2,243.5 462.3,229.2 472.3,215.5 479.8,205.6 484.8,199.3 489.8,193.2 494.9,187.2 499.9,181.4 504.9,175.9 509.9,170.5 517.4,162.7 522.4,157.8 527.4,153.1 532.5,148.5 540.0,142.0 545.0,137.9 552.5,132.0 557.5,128.3 565.0,123.0 570.0,119.6 577.6,114.8 582.6,111.8 590.1,107.6 595.1,104.9 602.6,101.0 610.1,97.4 617.7,94.1" stroke="#E75263"/>
<path d="M367.0,346.8 369.5,346.6 372.0,345.9 374.6,344.9 377.1,343.5 379.6,341.9 382.1,340.0 384.6,337.9 387.1,335.6 389.6,333.1 392.1,330.4 397.1,324.6 399.6,321.5 404.6,314.9 412.1,304.6 422.2,290.0 442.2,260.0 452.2,245.2 462.3,230.9 472.3,217.2 479.8,207.3 484.8,200.9 489.8,194.8 494.9,188.8 499.9,183.0 504.9,177.4 509.9,172.0 517.4,164.2 522.4,159.2 527.4,154.4 532.5,149.8 540.0,143.3 545.0,139.1 552.5,133.1 557.5,129.4 565.0,124.0 570.0,120.6 577.6,115.8 582.6,112.7 590.1,108.4 595.1,105.7 602.6,101.8 610.1,98.2 617.7,94.8" stroke="#E95462"/>
<path d="M367.0,346.8 369.5,346.6 372.0,346.0 374.6,345.0 377.1,343.8 379.6,342.2 382.1,340.4 384.6,338.4 387.1,336.2 389.6,333.7 392.1,331.1 397.1,325.5 399.6,322.4 404.6,316.1 409.6,309.3 414.7,302.3 422.2,291.4 444.7,257.9 454.8,243.3 464.8,229.1 474.8,215.5 482.3,205.8 487.3,199.5 492.4,193.3 497.4,187.4 502.4,181.7 507.4,176.1 512.4,170.8 519.9,163.0 524.9,158.1 529.9,153.4 535.0,148.9 542.5,142.3 547.5,138.2 555.0,132.3 560.0,128.6 567.5,123.3 572.6,119.9 580.1,115.1 585.1,112.1 592.6,107.8 597.6,105.1 605.1,101.3 610.1,98.9 617.7,95.4" stroke="#EC5860"/>
<path d="M367.0,346.8 369.5,346.6 372.0,346.0 374.6,345.2 377.1,344.0 379.6,342.5 382.1,340.8 384.6,338.9 387.1,336.7 389.6,334.3 392.1,331.8 394.6,329.1 399.6,323.4 402.1,320.3 407.1,313.9 412.1,307.1 417.2,300.1 424.7,289.2 444.7,259.6 454.8,245.0 464.8,230.8 474.8,217.2 482.3,207.4 487.3,201.1 492.4,194.9 497.4,189.0 502.4,183.2 507.4,177.6 512.4,172.2 519.9,164.4 524.9,159.5 529.9,154.7 535.0,150.1 542.5,143.5 547.5,139.4 555.0,133.4 560.0,129.6 567.5,124.3 572.6,120.9 580.1,116.0 585.1,113.0 592.6,108.6 597.6,105.9 605.1,102.0 610.1,99.6 617.7,96.1" stroke="#EF5D5E"/>
<path d="M367.0,346.8 369.5,346.6 372.0,346.1 374.6,345.3 377.1,344.2 379.6,342.8 382.1,341.1 384.6,339.3 387.1,337.2 389.6,334.9 392.1,332.5 394.6,329.9 399.6,324.3 402.1,321.3 407.1,314.9 412.1,308.3 417.2,301.4 427.2,287.0 447.2,257.5 457.3,243.1 467.3,229.0 477.3,215.5 484.8,205.8 489.8,199.5 494.9,193.5 499.9,187.6 504.9,181.8 509.9,176.3 514.9,171.0 522.4,163.3 527.4,158.4 532.5,153.6 537.5,149.1 545.0,142.6 550.0,138.5 555.0,134.5 560.0,130.7 567.5,125.3 572.6,121.8 580.1,116.9 585.1,113.9 592.6,109.5 597.6,106.7 605.1,102.8 610.1,100.3 617.7,96.8" stroke="#F1605D"/>
<path d="M367.0,346.8 369.5,346.6 372.0,346.2 374.6,345.4 377.1,344.3 379.6,343.0 382.1,341.5 384.6,339.7 387.1,337.7 389.6,335.5 392.1,333.1 394.6,330.6 397.1,327.9 402.1,322.2 404.6,319.1 409.6,312.8 414.7,306.1 419.7,299.1 427.2,288.4 449.7,255.5 459.8,241.1 469.8,227.2 479.8,213.8 487.3,204.2 492.4,198.0 497.4,192.0 502.4,186.2 507.4,180.5 512.4,175.0 517.4,169.7 522.4,164.6 527.4,159.7 532.5,154.9 537.5,150.3 545.0,143.8 550.0,139.6 555.0,135.6 560.0,131.7 567.5,126.3 572.6,122.8 580.1,117.8 585.1,114.7 592.6,110.3 597.6,107.5 605.1,103.5 610.1,101.0 617.7,97.4" stroke="#F3655C"/>
<path d="M367.0,346.8 369.5,346.7 372.0,346.2 374.6,345.5 377.1,344.5 379.6,343.3 382.1,341.8 384.6,340.1 387.1,338.2 389.6,336.0 392.1,333.7 394.6,331.3 397.1,328.7 402.1,323.1 404.6,320.1 409.6,313.8 414.7,307.3 419.7,300.4 429.7,286.2 449.7,257.1 459.8,242.8 469.8,228.8 479.8,215.4 487.3,205.8 492.4,199.5 497.4,193.5 502.4,187.6 507.4,181.9 512.4,176.4 517.4,171.1 524.9,163.4 529.9,158.5 535.0,153.8 540.0,149.3 547.5,142.8 552.5,138.7 557.5,134.7 562.5,130.9 570.0,125.5 575.1,122.0 580.1,118.7 585.1,115.6 592.6,111.1 597.6,108.2 605.1,104.2 610.1,101.7 617.7,98.1" stroke="#F4695C"/>
<path d="M367.0,346.8 369.5,346.7 372.0,346.3 374.6,345.6 377.1,344.7 379.6,343.5 382.1,342.1 384.6,340.4 387.1,338.6 389.6,336.5 392.1,334.3 394.6,331.9 397.1,329.4 402.1,323.9 404.6,321.0 409.6,314.9 414.7,308.4 419.7,301.7 429.7,287.6 452.2,255.1 462.3,240.8 472.3,227.0 482.3,213.7 489.8,204.2 494.9,198.0 499.9,192.0 504.9,186.2 509.9,180.6 514.9,175.1 519.9,169.8 527.4,162.2 532.5,157.4 537.5,152.7 542.5,148.2 547.5,143.9 552.5,139.7 557.5,135.7 562.5,131.9 570.0,126.4 575.1,122.9 580.1,119.6 585.1,116.4 592.6,111.9 597.6,109.0 605.1,104.9 610.1,102.4 617.7,98.7" stroke="#F66E5C"/>
<path d="M367.0,346.8 369.5,346.7 372.0,346.3 374.6,345.7 377.1,344.8 379.6,343.7 382.1,342.3 384.6,340.8 387.1,339.0 389.6,337.0 392.1,334.9 394.6,332.6 399.6,327.5 404.6,321.9 407.1,319.0 412.1,312.8 417.2,306.2 422.2,299.5 432.2,285.4 454.8,253.0 464.8,238.9 474.8,225.2 484.8,212.0 492.4,202.6 497.4,196.4 502.4,190.5 507.4,184.8 512.4,179.2 517.4,173.8 522.4,168.6 527.4,163.5 532.5,158.6 537.5,153.9 542.5,149.4 547.5,145.0 552.5,140.8 557.5,136.8 562.5,132.9 570.0,127.4 575.1,123.9 580.1,120.5 585.1,117.3 592.6,112.7 597.6,109.8 605.1,105.7 610.1,103.1 617.7,99.4" stroke="#F8745C"/>
<path d="M367.0,346.8 369.5,346.7 372.0,346.4 374.6,345.8 377.1,345.0 379.6,343.9 382.1,342.6 384.6,341.1 387.1,339.4 389.6,337.5 392.1,335.4 394.6,333.2 397.1,330.8 399.6,328.2 404.6,322.8 407.1,319.9 412.1,313.8 417.2,307.4 422.2,300.7 432.2,286.8 454.8,254.5 464.8,240.4 474.8,226.7 484.8,213.5 492.4,204.0 497.4,197.9 502.4,191.9 507.4,186.2 512.4,180.5 517.4,175.1 522.4,169.8 529.9,162.3 535.0,157.5 540.0,152.8 545.0,148.3 550.0,144.0 555.0,139.9 560.0,135.9 565.0,132.0 572.6,126.5 577.6,123.1 582.6,119.7 587.6,116.5 595.1,112.0 600.1,109.1 605.1,106.4 610.1,103.8 617.7,100.0" stroke="#F9785D"/>
<path d="M367.0,346.8 369.5,346.7 372.0,346.4 374.6,345.9 377.1,345.1 379.6,344.1 382.1,342.9 384.6,341.4 387.1,339.8 389.6,337.9 392.1,335.9 394.6,333.8 397.1,331.4 399.6,329.0 404.6,323.6 409.6,317.8 414.7,311.7 419.7,305.2 424.7,298.5 434.7,284.6 457.3,252.5 467.3,238.5 477.3,224.9 487.3,211.8 494.9,202.4 499.9,196.3 504.9,190.4 509.9,184.7 514.9,179.1 519.9,173.8 524.9,168.6 529.9,163.5 535.0,158.7 540.0,154.0 545.0,149.5 550.0,145.1 555.0,140.9 560.0,136.9 565.0,133.0 572.6,127.5 577.6,124.0 582.6,120.6 587.6,117.4 595.1,112.8 600.1,109.9 605.1,107.1 610.1,104.5 617.7,100.7" stroke="#FA7D5E"/>
<path d="M367.0,346.8 369.5,346.7 372.0,346.4 374.6,345.9 377.1,345.2 379.6,344.3 382.1,343.1 384.6,341.7 387.1,340.1 389.6,338.4 392.1,336.4 394.6,334.3 397.1,332.0 399.6,329.6 402.1,327.1 407.1,321.6 409.6,318.7 414.7,312.7 419.7,306.3 424.7,299.7 434.7,285.9 457.3,254.0 467.3,240.0 477.3,226.4 487.3,213.3 494.9,203.8 499.9,197.7 504.9,191.8 509.9,186.1 514.9,180.5 519.9,175.1 524.9,169.8 532.5,162.3 537.5,157.5 542.5,152.8 547.5,148.4 552.5,144.0 557.5,139.9 562.5,135.9 567.5,132.1 572.6,128.4 577.6,124.9 582.6,121.5 587.6,118.2 595.1,113.6 600.1,110.6 605.1,107.8 610.1,105.1 617.7,101.3" stroke="#FA815F"/>
<path d="M367.0,346.8 369.5,346.7 372.0,346.5 374.6,346.0 377.1,345.3 379.6,344.4 382.1,343.3 384.6,342.0 387.1,340.5 389.6,338.8 392.1,336.9 394.6,334.8 397.1,332.6 402.1,327.8 407.1,322.5 412.1,316.7 417.2,310.6 422.2,304.2 427.2,297.5 437.2,283.7 459.8,251.9 469.8,238.0 479.8,224.5 489.8,211.5 497.4,202.2 502.4,196.1 507.4,190.3 512.4,184.6 517.4,179.0 522.4,173.7 527.4,168.5 532.5,163.5 537.5,158.6 542.5,154.0 547.5,149.5 552.5,145.1 557.5,140.9 562.5,136.9 567.5,133.0 572.6,129.3 577.6,125.7 582.6,122.3 587.6,119.0 595.1,114.3 600.1,111.4 605.1,108.5 610.1,105.8 617.7,102.0" stroke="#FB8761"/>
<path d="M367.0,346.8 369.5,346.7 372.0,346.5 374.6,346.1 377.1,345.4 379.6,344.6 382.1,343.5 384.6,342.2 387.1,340.8 389.6,339.1 392.1,337.3 394.6,335.3 397.1,333.2 399.6,330.9 402.1,328.5 407.1,323.3 412.1,317.6 417.2,311.6 422.2,305.3 427.2,298.7 437.2,285.0 459.8,253.4 469.8,239.5 477.3,229.3 482.3,222.7 492.4,209.8 499.9,200.5 504.9,194.6 509.9,188.7 514.9,183.1 519.9,177.6 524.9,172.3 529.9,167.2 535.0,162.2 540.0,157.4 545.0,152.8 550.0,148.3 555.0,144.0 560.0,139.9 565.0,135.9 570.0,132.1 575.1,128.4 580.1,124.9 585.1,121.5 590.1,118.2 595.1,115.1 600.1,112.1 605.1,109.3 610.1,106.5 617.7,102.6" stroke="#FC8A62"/>
<path d="M367.0,346.8 369.5,346.7 372.0,346.5 374.6,346.1 377.1,345.5 379.6,344.7 382.1,343.7 384.6,342.5 387.1,341.1 389.6,339.5 392.1,337.8 394.6,335.8 397.1,333.8 399.6,331.5 402.1,329.2 404.6,326.7 409.6,321.3 414.7,315.6 419.7,309.5 424.7,303.1 429.7,296.5 439.7,282.9 462.3,251.3 472.3,237.5 482.3,224.1 492.4,211.2 499.9,201.9 504.9,195.9 509.9,190.1 514.9,184.4 519.9,178.9 524.9,173.5 529.9,168.4 535.0,163.4 540.0,158.6 545.0,153.9 550.0,149.4 555.0,145.1 560.0,140.9 565.0,136.9 570.0,133.0 575.1,129.3 580.1,125.7 585.1,122.3 590.1,119.0 595.1,115.9 600.1,112.9 605.1,110.0 610.1,107.2 617.7,103.3" stroke="#FC9065"/>
<path d="M367.0,346.8 369.5,346.8 372.0,346.6 374.6,346.2 377.1,345.6 379.6,344.8 382.1,343.9 384.6,342.7 387.1,341.4 389.6,339.9 392.1,338.2 394.6,336.3 397.1,334.3 399.6,332.1 402.1,329.8 404.6,327.4 409.6,322.1 414.7,316.5 419.7,310.5 424.7,304.2 429.7,297.7 439.7,284.1 464.8,249.3 474.8,235.6 484.8,222.2 494.9,209.4 502.4,200.2 507.4,194.3 512.4,188.5 517.4,182.9 522.4,177.4 527.4,172.1 532.5,167.0 537.5,162.1 545.0,155.0 550.0,150.5 555.0,146.1 560.0,141.9 565.0,137.8 570.0,133.9 575.1,130.2 580.1,126.6 585.1,123.2 590.1,119.8 595.1,116.7 600.1,113.6 605.1,110.7 610.1,107.9 617.7,103.9" stroke="#FD9668"/>
<path d="M367.0,346.8 369.5,346.8 372.0,346.6 374.6,346.2 377.1,345.7 379.6,345.0 382.1,344.0 384.6,342.9 387.1,341.6 389.6,340.2 392.1,338.5 394.6,336.7 397.1,334.8 399.6,332.7 402.1,330.4 404.6,328.0 409.6,322.9 414.7,317.4 419.7,311.5 424.7,305.3 429.7,298.8 434.7,292.2 442.2,281.9 464.8,250.7 474.8,237.0 482.3,226.9 487.3,220.4 497.4,207.7 504.9,198.6 509.9,192.7 514.9,186.9 519.9,181.4 524.9,176.0 529.9,170.8 535.0,165.7 540.0,160.8 547.5,153.8 552.5,149.3 557.5,145.0 562.5,140.8 567.5,136.8 572.6,133.0 577.6,129.3 582.6,125.7 587.6,122.3 592.6,119.0 597.6,115.9 602.6,112.9 607.6,110.0 612.7,107.2 617.7,104.5" stroke="#FD9A6A"/>
<path d="M367.0,346.8 369.5,346.8 372.0,346.6 374.6,346.3 377.1,345.8 379.6,345.1 382.1,344.2 384.6,343.1 387.1,341.9 389.6,340.5 392.1,338.9 394.6,337.2 397.1,335.3 399.6,333.2 404.6,328.7 407.1,326.2 412.1,321.0 417.2,315.4 422.2,309.4 427.2,303.1 432.2,296.7 442.2,283.2 467.3,248.6 477.3,235.0 487.3,221.8 497.4,209.0 504.9,199.9 509.9,194.0 514.9,188.2 519.9,182.6 524.9,177.2 529.9,171.9 535.0,166.8 540.0,161.9 547.5,154.8 552.5,150.3 557.5,146.0 562.5,141.8 567.5,137.8 572.6,133.9 577.6,130.1 582.6,126.5 587.6,123.1 592.6,119.8 597.6,116.6 602.6,113.6 607.6,110.7 612.7,107.9 617.7,105.2" stroke="#FE9F6D"/>
<path d="M367.0,346.8 369.5,346.8 372.0,346.6 374.6,346.3 377.1,345.8 379.6,345.2 382.1,344.4 384.6,343.3 387.1,342.2 389.6,340.8 392.1,339.3 394.6,337.6 397.1,335.7 399.6,333.7 402.1,331.6 407.1,326.9 412.1,321.8 414.7,319.1 419.7,313.3 424.7,307.3 432.2,297.8 437.2,291.2 444.7,281.0 467.3,249.9 477.3,236.4 487.3,223.1 494.9,213.5 504.9,201.2 512.4,192.3 519.9,183.8 527.4,175.7 532.5,170.5 537.5,165.5 542.5,160.6 547.5,155.9 552.5,151.4 557.5,147.0 562.5,142.7 570.0,136.7 575.1,132.9 580.1,129.2 585.1,125.6 592.6,120.6 597.6,117.4 605.1,112.8 610.1,109.9 617.7,105.8" stroke="#FEA36F"/>
<path d="M367.0,346.8 369.5,346.8 372.0,346.6 374.6,346.3 377.1,345.9 379.6,345.3 382.1,344.5 384.6,343.5 387.1,342.4 389.6,341.1 392.1,339.6 394.6,338.0 397.1,336.2 399.6,334.2 402.1,332.1 407.1,327.6 412.1,322.6 414.7,319.9 419.7,314.2 424.7,308.3 432.2,298.9 437.2,292.3 444.7,282.2 467.3,251.3 477.3,237.7 487.3,224.5 497.4,211.7 507.4,199.5 514.9,190.7 522.4,182.3 529.9,174.3 535.0,169.1 540.0,164.1 545.0,159.3 550.0,154.6 555.0,150.2 560.0,145.8 565.0,141.6 572.6,135.7 577.6,131.9 582.6,128.2 587.6,124.7 595.1,119.7 600.1,116.5 605.1,113.5 610.1,110.6 617.7,106.5" stroke="#FEA973"/>
<path d="M367.0,346.8 369.5,346.8 372.0,346.6 374.6,346.4 377.1,346.0 379.6,345.4 382.1,344.6 384.6,343.7 387.1,342.6 389.6,341.4 392.1,339.9 394.6,338.3 397.1,336.6 399.6,334.7 402.1,332.7 407.1,328.2 412.1,323.3 414.7,320.7 419.7,315.1 424.7,309.2 432.2,299.9 437.2,293.4 444.7,283.4 469.8,249.2 479.8,235.7 489.8,222.6 497.4,213.0 507.4,200.7 514.9,191.9 522.4,183.5 529.9,175.4 535.0,170.2 540.0,165.2 545.0,160.4 550.0,155.7 555.0,151.2 560.0,146.8 565.0,142.6 572.6,136.6 577.6,132.7 582.6,129.0 587.6,125.5 595.1,120.5 600.1,117.3 605.1,114.2 610.1,111.3 617.7,107.1" stroke="#FEAE77"/>
<path d="M367.0,346.8 372.0,346.7 374.6,346.4 377.1,346.0 379.6,345.5 382.1,344.8 384.6,343.9 387.1,342.8 389.6,341.6 392.1,340.2 394.6,338.7 397.1,337.0 399.6,335.2 402.1,333.2 404.6,331.1 409.6,326.5 414.7,321.4 417.2,318.7 422.2,313.1 427.2,307.2 434.7,297.8 439.7,291.3 447.2,281.3 469.8,250.5 479.8,237.0 489.8,223.9 499.9,211.2 507.4,202.0 514.9,193.2 522.4,184.7 529.9,176.6 535.0,171.4 540.0,166.3 545.0,161.4 550.0,156.7 555.0,152.1 560.0,147.8 565.0,143.5 572.6,137.4 577.6,133.6 582.6,129.9 587.6,126.3 595.1,121.2 600.1,118.0 605.1,114.9 610.1,111.9 617.7,107.7" stroke="#FEB27A"/>
<path d="M367.0,346.8 372.0,346.7 374.6,346.4 377.1,346.1 379.6,345.6 382.1,344.9 384.6,344.0 387.1,343.0 389.6,341.9 392.1,340.5 394.6,339.0 397.1,337.4 399.6,335.6 402.1,333.7 404.6,331.6 409.6,327.1 414.7,322.2 417.2,319.5 422.2,314.0 427.2,308.1 434.7,298.8 439.7,292.4 447.2,282.4 472.3,248.4 482.3,235.0 492.4,221.9 499.9,212.4 509.9,200.3 517.4,191.5 524.9,183.1 532.5,175.1 537.5,169.9 542.5,164.9 547.5,160.1 552.5,155.4 557.5,150.9 562.5,146.6 567.5,142.4 575.1,136.4 580.1,132.6 585.1,128.9 590.1,125.4 595.1,122.0 600.1,118.7 605.1,115.6 610.1,112.6 617.7,108.3" stroke="#FEB77E"/>
<path d="M367.0,346.8 372.0,346.7 374.6,346.5 377.1,346.1 379.6,345.6 382.1,345.0 384.6,344.2 387.1,343.2 389.6,342.1 392.1,340.8 394.6,339.4 397.1,337.8 399.6,336.0 402.1,334.2 404.6,332.2 409.6,327.7 414.7,322.9 419.7,317.6 424.7,312.0 432.2,303.0 437.2,296.7 444.7,286.9 452.2,276.9 479.8,239.6 489.8,226.4 497.4,216.8 507.4,204.5 514.9,195.6 519.9,189.9 524.9,184.3 532.5,176.2 537.5,171.0 542.5,166.0 547.5,161.1 552.5,156.4 557.5,151.9 562.5,147.5 567.5,143.3 575.1,137.2 580.1,133.4 585.1,129.7 590.1,126.1 595.1,122.7 600.1,119.4 605.1,116.3 610.1,113.3 617.7,109.0" stroke="#FEBB81"/>
<path d="M367.0,346.8 372.0,346.7 374.6,346.5 377.1,346.2 379.6,345.7 382.1,345.1 384.6,344.3 387.1,343.4 389.6,342.3 392.1,341.1 394.6,339.7 397.1,338.1 399.6,336.5 402.1,334.6 404.6,332.7 407.1,330.6 412.1,326.0 417.2,321.0 422.2,315.7 427.2,309.9 434.7,300.9 439.7,294.5 447.2,284.7 479.8,240.9 489.8,227.7 497.4,218.1 507.4,205.7 514.9,196.8 519.9,191.0 524.9,185.4 532.5,177.3 537.5,172.1 542.5,167.0 547.5,162.1 552.5,157.4 557.5,152.8 562.5,148.4 567.5,144.2 575.1,138.1 580.1,134.2 585.1,130.5 590.1,126.9 595.1,123.5 600.1,120.2 605.1,117.0 610.1,113.9 617.7,109.6" stroke="#FEC185"/>
<path d="M367.0,346.8 372.0,346.7 374.6,346.5 377.1,346.2 379.6,345.8 382.1,345.2 384.6,344.5 387.1,343.6 389.6,342.5 392.1,341.3 394.6,340.0 397.1,338.5 399.6,336.8 402.1,335.1 404.6,333.1 407.1,331.1 412.1,326.6 417.2,321.7 422.2,316.5 427.2,310.8 434.7,301.8 439.7,295.6 447.2,285.9 454.8,275.9 479.8,242.2 489.8,229.0 497.4,219.4 507.4,206.9 517.4,195.1 522.4,189.4 527.4,183.8 535.0,175.8 540.0,170.6 545.0,165.6 550.0,160.8 555.0,156.1 560.0,151.6 565.0,147.2 570.0,143.0 575.1,138.9 580.1,135.0 585.1,131.3 590.1,127.7 595.1,124.2 600.1,120.9 605.1,117.7 610.1,114.6 617.7,110.2" stroke="#FEC488"/>
<path d="M367.0,346.8 372.0,346.7 374.6,346.5 377.1,346.3 379.6,345.8 382.1,345.3 384.6,344.6 387.1,343.7 389.6,342.7 392.1,341.6 394.6,340.3 397.1,338.8 399.6,337.2 402.1,335.5 404.6,333.6 407.1,331.6 409.6,329.5 414.7,324.9 419.7,319.9 422.2,317.2 427.2,311.7 432.2,305.8 439.7,296.6 444.7,290.2 452.2,280.4 477.3,246.7 487.3,233.5 497.4,220.6 504.9,211.2 512.4,202.1 519.9,193.3 527.4,184.9 535.0,176.8 540.0,171.7 545.0,166.6 550.0,161.8 555.0,157.1 560.0,152.5 565.0,148.1 570.0,143.9 575.1,139.8 580.1,135.9 585.1,132.1 590.1,128.4 595.1,125.0 600.1,121.6 605.1,118.4 610.1,115.3 617.7,110.8" stroke="#FECA8D"/>
<path d="M367.0,346.8 372.0,346.7 374.6,346.6 377.1,346.3 379.6,345.9 382.1,345.4 384.6,344.7 387.1,343.9 389.6,342.9 392.1,341.8 394.6,340.6 397.1,339.1 399.6,337.6 402.1,335.9 404.6,334.1 407.1,332.1 409.6,330.0 414.7,325.5 419.7,320.6 424.7,315.3 429.7,309.7 437.2,300.7 442.2,294.4 449.7,284.8 457.3,274.8 482.3,241.3 492.4,228.2 499.9,218.6 509.9,206.3 517.4,197.4 527.4,186.0 535.0,177.9 540.0,172.7 545.0,167.6 550.0,162.8 555.0,158.0 560.0,153.4 565.0,149.0 570.0,144.8 575.1,140.7 580.1,136.7 585.1,132.9 590.1,129.2 595.1,125.7 600.1,122.3 605.1,119.0 610.1,115.9 617.7,111.5" stroke="#FECF92"/>
<path d="M367.0,346.8 372.0,346.7 374.6,346.6 377.1,346.3 379.6,346.0 382.1,345.5 384.6,344.8 387.1,344.0 389.6,343.1 392.1,342.0 394.6,340.8 397.1,339.5 399.6,337.9 402.1,336.3 404.6,334.5 407.1,332.6 409.6,330.6 414.7,326.2 419.7,321.3 424.7,316.1 429.7,310.5 437.2,301.7 444.7,292.3 452.2,282.6 484.8,239.2 492.4,229.4 499.9,219.8 509.9,207.5 517.4,198.5 527.4,187.1 535.0,179.0 540.0,173.7 545.0,168.7 550.0,163.7 555.0,159.0 560.0,154.4 565.0,149.9 570.0,145.6 575.1,141.5 580.1,137.5 585.1,133.7 590.1,130.0 595.1,126.4 600.1,123.0 605.1,119.7 610.1,116.6 617.7,112.1" stroke="#FED395"/>
<path d="M367.0,346.8 372.0,346.7 374.6,346.6 377.1,346.4 379.6,346.0 382.1,345.5 384.6,344.9 387.1,344.2 389.6,343.3 392.1,342.2 394.6,341.1 397.1,339.7 399.6,338.3 402.1,336.7 404.6,334.9 409.6,331.1 412.1,329.0 417.2,324.4 422.2,319.5 427.2,314.1 432.2,308.5 439.7,299.5 444.7,293.3 452.2,283.7 459.8,273.8 484.8,240.4 494.9,227.4 502.4,217.9 512.4,205.6 519.9,196.8 529.9,185.5 537.5,177.4 542.5,172.2 547.5,167.2 552.5,162.3 557.5,157.6 562.5,153.0 567.5,148.7 572.6,144.4 577.6,140.3 582.6,136.4 587.6,132.6 592.6,128.9 597.6,125.4 602.6,122.0 607.6,118.8 612.7,115.7 617.7,112.7" stroke="#FED89A"/>
<path d="M367.0,346.8 372.0,346.7 374.6,346.6 377.1,346.4 379.6,346.1 382.1,345.6 384.6,345.0 387.1,344.3 389.6,343.5 392.1,342.5 394.6,341.3 397.1,340.0 399.6,338.6 402.1,337.1 404.6,335.4 409.6,331.6 412.1,329.5 417.2,325.1 422.2,320.2 427.2,314.9 432.2,309.4 439.7,300.5 447.2,291.1 454.8,281.5 487.3,238.3 494.9,228.6 502.4,219.1 512.4,206.8 519.9,197.9 529.9,186.5 537.5,178.4 542.5,173.2 547.5,168.2 552.5,163.3 557.5,158.5 562.5,154.0 567.5,149.5 572.6,145.3 577.6,141.1 582.6,137.2 587.6,133.4 592.6,129.7 597.6,126.1 602.6,122.7 607.6,119.5 612.7,116.3 617.7,113.3" stroke="#FDDC9E"/>
<path d="M367.0,346.8 372.0,346.7 374.6,346.6 377.1,346.4 379.6,346.1 382.1,345.7 384.6,345.1 387.1,344.4 389.6,343.6 392.1,342.6 394.6,341.5 397.1,340.3 399.6,338.9 402.1,337.4 404.6,335.8 407.1,334.0 409.6,332.1 412.1,330.1 417.2,325.7 422.2,320.9 424.7,318.3 429.7,313.0 434.7,307.3 442.2,298.4 447.2,292.1 454.8,282.5 487.3,239.5 494.9,229.8 502.4,220.2 512.4,207.9 519.9,199.0 529.9,187.6 537.5,179.5 542.5,174.2 547.5,169.2 552.5,164.2 557.5,159.5 562.5,154.9 567.5,150.4 572.6,146.1 577.6,142.0 582.6,138.0 587.6,134.1 592.6,130.4 597.6,126.9 602.6,123.4 607.6,120.1 612.7,117.0 617.7,113.9" stroke="#FDE2A3"/>
<path d="M367.0,346.8 372.0,346.8 374.6,346.6 377.1,346.4 379.6,346.2 382.1,345.7 384.6,345.2 387.1,344.6 389.6,343.8 392.1,342.8 394.6,341.8 397.1,340.6 399.6,339.2 402.1,337.7 404.6,336.1 407.1,334.4 412.1,330.6 414.7,328.5 419.7,323.9 424.7,319.0 429.7,313.8 434.7,308.2 442.2,299.3 447.2,293.1 454.8,283.6 462.3,273.8 489.8,237.4 497.4,227.7 504.9,218.3 514.9,206.0 522.4,197.2 529.9,188.7 537.5,180.5 542.5,175.2 547.5,170.1 552.5,165.2 557.5,160.4 562.5,155.8 567.5,151.3 572.6,147.0 577.6,142.8 582.6,138.8 587.6,134.9 592.6,131.2 597.6,127.6 602.6,124.1 607.6,120.8 612.7,117.6 617.7,114.6" stroke="#FDE7A9"/>
<path d="M367.0,346.8 372.0,346.8 374.6,346.7 379.6,346.2 382.1,345.8 384.6,345.3 387.1,344.7 389.6,343.9 392.1,343.0 394.6,342.0 397.1,340.8 399.6,339.5 402.1,338.1 404.6,336.5 407.1,334.8 412.1,331.1 414.7,329.0 419.7,324.6 424.7,319.7 429.7,314.5 434.7,309.0 442.2,300.2 449.7,291.0 457.3,281.4 489.8,238.6 497.4,228.9 504.9,219.4 514.9,207.1 522.4,198.3 532.5,187.0 540.0,178.9 545.0,173.7 550.0,168.6 557.5,161.3 562.5,156.7 567.5,152.2 572.6,147.8 577.6,143.6 582.6,139.6 587.6,135.7 592.6,131.9 597.6,128.3 602.6,124.8 607.6,121.5 612.7,118.2 617.7,115.2" stroke="#FDEBAC"/>
<path d="M367.0,346.8 374.6,346.7 379.6,346.2 382.1,345.9 384.6,345.4 387.1,344.8 389.6,344.0 392.1,343.2 394.6,342.2 397.1,341.1 399.6,339.8 402.1,338.4 404.6,336.9 407.1,335.2 412.1,331.5 414.7,329.5 419.7,325.2 424.7,320.4 427.2,317.9 432.2,312.6 437.2,307.0 444.7,298.1 449.7,291.9 457.3,282.4 464.8,272.7 489.8,239.7 499.9,226.8 507.4,217.4 517.4,205.3 524.9,196.5 532.5,188.0 540.0,179.9 545.0,174.6 550.0,169.6 557.5,162.2 562.5,157.6 567.5,153.0 572.6,148.6 577.6,144.4 582.6,140.3 587.6,136.4 592.6,132.6 597.6,129.0 602.6,125.5 607.6,122.1 612.7,118.9 617.7,115.8" stroke="#FCF0B2"/>
<path d="M367.0,346.8 374.6,346.7 379.6,346.3 382.1,345.9 384.6,345.5 387.1,344.9 389.6,344.2 392.1,343.3 394.6,342.4 397.1,341.3 399.6,340.1 402.1,338.7 404.6,337.2 407.1,335.6 409.6,333.9 414.7,330.0 417.2,327.9 422.2,323.4 427.2,318.6 432.2,313.3 437.2,307.8 444.7,299.0 452.2,289.8 459.8,280.2 492.4,237.6 499.9,228.0 507.4,218.5 517.4,206.3 524.9,197.5 532.5,189.0 540.0,180.9 545.0,175.6 550.0,170.5 557.5,163.2 562.5,158.4 567.5,153.9 572.6,149.5 577.6,145.2 582.6,141.1 587.6,137.2 592.6,133.4 597.6,129.7 602.6,126.2 607.6,122.8 612.7,119.5 617.7,116.4" stroke="#FCF4B6"/>
<path d="M367.0,346.8 374.6,346.7 379.6,346.3 382.1,346.0 384.6,345.5 387.1,345.0 389.6,344.3 392.1,343.5 394.6,342.6 397.1,341.5 399.6,340.3 402.1,339.0 404.6,337.5 407.1,336.0 409.6,334.3 414.7,330.5 417.2,328.5 422.2,324.0 427.2,319.2 429.7,316.7 434.7,311.4 439.7,305.8 447.2,296.9 452.2,290.7 459.8,281.2 492.4,238.7 499.9,229.1 507.4,219.6 517.4,207.4 524.9,198.6 535.0,187.3 542.5,179.2 547.5,174.0 552.5,169.0 560.0,161.7 565.0,157.0 570.0,152.5 575.1,148.2 580.1,144.0 587.6,137.9 592.6,134.1 597.6,130.4 602.6,126.8 607.6,123.4 612.7,120.1 617.7,117.0" stroke="#FCF9BB"/>
<path d="M367.0,346.8 374.6,346.7 379.6,346.3 382.1,346.0 384.6,345.6 387.1,345.1 389.6,344.4 392.1,343.6 394.6,342.7 397.1,341.7 399.6,340.6 402.1,339.3 404.6,337.9 407.1,336.3 409.6,334.7 414.7,331.0 417.2,329.0 422.2,324.6 427.2,319.9 429.7,317.4 434.7,312.1 439.7,306.6 447.2,297.8 452.2,291.7 459.8,282.2 467.3,272.5 494.9,236.6 502.4,227.0 509.9,217.6 519.9,205.5 527.4,196.8 535.0,188.3 542.5,180.2 547.5,175.0 552.5,169.9 560.0,162.6 565.0,157.9 570.0,153.4 575.1,149.0 580.1,144.7 587.6,138.7 592.6,134.8 597.6,131.1 602.6,127.5 607.6,124.1 612.7,120.8 617.7,117.6" stroke="#FCFDBF"/>
</g>
</svg>
<canvas id="cv" width="703" height="413"></canvas>
<svg width="703" height="413" viewBox="0 0 703 413">
<defs><linearGradient id="g" x1="0" y1="1" x2="0" y2="0">
<stop offset="0.000" stop-color="#000004"/>
<stop offset="0.025" stop-color="#02020D"/>
<stop offset="0.050" stop-color="#06051A"/>
<stop offset="0.075" stop-color="#0D0A29"/>
<stop offset="0.100" stop-color="#140E36"/>
<stop offset="0.125" stop-color="#1D1147"/>
<stop offset="0.150" stop-color="#251255"/>
<stop offset="0.175" stop-color="#2F1163"/>
<stop offset="0.200" stop-color="#3B0F70"/>
<stop offset="0.225" stop-color="#451077"/>
<stop offset="0.250" stop-color="#51127C"/>
<stop offset="0.275" stop-color="#5A167E"/>
<stop offset="0.300" stop-color="#641A80"/>
<stop offset="0.325" stop-color="#6E1E81"/>
<stop offset="0.350" stop-color="#782281"/>
<stop offset="0.375" stop-color="#832681"/>
<stop offset="0.400" stop-color="#8C2981"/>
<stop offset="0.425" stop-color="#962C80"/>
<stop offset="0.450" stop-color="#A1307E"/>
<stop offset="0.475" stop-color="#AB337C"/>
<stop offset="0.500" stop-color="#B73779"/>
<stop offset="0.525" stop-color="#C03A76"/>
<stop offset="0.550" stop-color="#CA3E72"/>
<stop offset="0.575" stop-color="#D5446D"/>
<stop offset="0.600" stop-color="#DE4968"/>
<stop offset="0.625" stop-color="#E75263"/>
<stop offset="0.650" stop-color="#ED5A5F"/>
<stop offset="0.675" stop-color="#F2645C"/>
<stop offset="0.700" stop-color="#F7705C"/>
<stop offset="0.725" stop-color="#F97B5D"/>
<stop offset="0.750" stop-color="#FC8961"/>
<stop offset="0.775" stop-color="#FD9467"/>
<stop offset="0.800" stop-color="#FE9F6D"/>
<stop offset="0.825" stop-color="#FEAC76"/>
<stop offset="0.850" stop-color="#FEB77E"/>
<stop offset="0.875" stop-color="#FEC488"/>
<stop offset="0.900" stop-color="#FECF92"/>
<stop offset="0.925" stop-color="#FDDA9C"/>
<stop offset="0.950" stop-color="#FDE7A9"/>
<stop offset="0.975" stop-color="#FCF2B4"/>
<stop offset="1.000" stop-color="#FCFDBF"/>
</linearGradient></defs>
<rect x="68.10" y="34.05" width="275.70" height="327.65" class="border"/>
<rect x="354.50" y="34.05" width="275.70" height="327.65" class="border"/>
<rect x="68.10" y="0.6" width="275.70" height="33.45" class="strip"/>
<text x="205.95" y="23.9" class="st" text-anchor="middle">k = 2</text>
<rect x="354.50" y="0.6" width="275.70" height="33.45" class="strip"/>
<text x="492.35" y="23.9" class="st" text-anchor="middle">k = 4</text>
<line x1="80.63" y1="361.70" x2="80.63" y2="366.70" class="tick"/>
<text x="80.63" y="383.5" class="tl" text-anchor="middle">0</text>
<line x1="160.84" y1="361.70" x2="160.84" y2="366.70" class="tick"/>
<path d="M155.66,383.50 155.66,373.23 153.02,375.12 153.02,373.71 155.78,371.80 157.16,371.80 157.16,383.50Z" fill="#4D4D4D" stroke="#4D4D4D" stroke-width="0.3"/>
<text x="160.84" y="383.5" class="tl">6</text>
<line x1="241.04" y1="361.70" x2="241.04" y2="366.70" class="tick"/>
<text x="241.04" y="383.5" class="tl" text-anchor="middle">32</text>
<line x1="321.24" y1="361.70" x2="321.24" y2="366.70" class="tick"/>
<text x="321.24" y="383.5" class="tl" text-anchor="middle">48</text>
<line x1="367.03" y1="361.70" x2="367.03" y2="366.70" class="tick"/>
<text x="367.03" y="383.5" class="tl" text-anchor="middle">0</text>
<line x1="447.24" y1="361.70" x2="447.24" y2="366.70" class="tick"/>
<path d="M442.06,383.50 442.06,373.23 439.42,375.12 439.42,373.71 442.18,371.80 443.56,371.80 443.56,383.50Z" fill="#4D4D4D" stroke="#4D4D4D" stroke-width="0.3"/>
<text x="447.24" y="383.5" class="tl">6</text>
<line x1="527.44" y1="361.70" x2="527.44" y2="366.70" class="tick"/>
<text x="527.44" y="383.5" class="tl" text-anchor="middle">32</text>
<line x1="607.64" y1="361.70" x2="607.64" y2="366.70" class="tick"/>
<text x="607.64" y="383.5" class="tl" text-anchor="middle">48</text>
<line x1="62.70" y1="48.94" x2="68.10" y2="48.94" class="tick"/>
<line x1="62.70" y1="346.81" x2="68.10" y2="346.81" class="tick"/>
<text x="57.9" y="54.79" class="tl" text-anchor="end">Max</text>
<text x="57.9" y="352.65" class="tl" text-anchor="end">Min</text>
<text x="349.4" y="408.1" class="ti" text-anchor="middle">Age</text>
<text transform="translate(15.5,198.2) rotate(-90)" class="ti" text-anchor="middle">Age-Structured Knowledge</text>
<text x="662.6" y="148.7" class="ti" style="font-size:21px">b</text>
<rect x="662.70" y="161.00" width="20.50" height="104.00" fill="url(#g)"/>
<line x1="662.70" y1="230.57" x2="666.90" y2="230.57" class="ltick"/>
<line x1="679.00" y1="230.57" x2="683.20" y2="230.57" class="ltick"/>
<path d="M698.27,237.00 698.27,226.73 695.64,228.61 695.64,227.20 698.40,225.30 699.78,225.30 699.78,237.00Z" fill="#000" stroke="#000" stroke-width="0.3"/>
<line x1="662.70" y1="195.78" x2="666.90" y2="195.78" class="ltick"/>
<line x1="679.00" y1="195.78" x2="683.20" y2="195.78" class="ltick"/>
<text x="694.0" y="202.22" class="lt">2</text>
<line x1="662.70" y1="161.00" x2="666.90" y2="161.00" class="ltick"/>
<line x1="679.00" y1="161.00" x2="683.20" y2="161.00" class="ltick"/>
<text x="694.0" y="167.43" class="lt">3</text>
</svg>
<script>
(function(){
try{
var S=4,W=703,H=413;
var cols=['#000004','#010106','#02020B','#03030F','#050416','#06051A','#090720','#0C0926','#0E0B2B','#120D31','#140E36','#180F3D','#1C1044','#1E1149','#221150','#251255','#2A115C','#2D1161','#331067','#38106C','#3B0F70','#400F74','#440F76','#491078','#4E117B','#51127C','#56147D','#59157E','#5D177F','#601880','#651A80','#6A1C81','#6D1D81','#721F81','#752181','#792282','#7E2482','#812581','#862781','#892881','#8E2A81','#932B80','#962C80','#9B2E7F','#9E2F7F','#A3307E','#A6317D','#AB337C','#B0357B','#B3367A','#B83779','#BC3978','#C03A76','#C53C74','#C83E73','#CD4071','#D0416F','#D5446D','#D8456C','#DC4869','#E04C67','#E34E65','#E75263','#E95462','#EC5860','#EF5D5E','#F1605D','#F3655C','#F4695C','#F66E5C','#F8745C','#F9785D','#FA7D5E','#FA815F','#FB8761','#FC8A62','#FC9065','#FD9668','#FD9A6A','#FE9F6D','#FEA36F','#FEA973','#FEAE77','#FEB27A','#FEB77E','#FEBB81','#FEC185','#FEC488','#FECA8D','#FECF92','#FED395','#FED89A','#FDDC9E','#FDE2A3','#FDE7A9','#FDEBAC','#FCF0B2','#FCF4B6','#FCF9BB','#FCFDBF'];
var PT=34.05,PB=361.7,PW=275.7,LS=[68.1,354.5],KS=[2,4],AS=[80.2,80.6];
function X(L,a){return L+(a+2.5)*PW/55;}
function Y(v){return PB-(v+0.05)/1.1*(PB-PT);}
var big=document.createElement('canvas');big.width=W*S;big.height=H*S;
var g=big.getContext('2d');g.scale(S,S);
for(var p=0;p<2;p++){
 var L=LS[p],k=KS[p];
 g.save();g.beginPath();g.rect(L,PT,PW,PB-PT);g.clip();
 g.fillStyle='#fff';g.fillRect(L,PT,PW,PB-PT);
 g.strokeStyle='#EBEBEB';
 g.lineWidth=1.0;
 [8,24,40].forEach(function(a){g.beginPath();g.moveTo(X(L,a),PT);g.lineTo(X(L,a),PB);g.stroke();});
 g.beginPath();g.moveTo(L,Y(0.5));g.lineTo(L+PW,Y(0.5));g.stroke();
 g.lineWidth=1.8;
 [0,16,32,48].forEach(function(a){g.beginPath();g.moveTo(X(L,a),PT);g.lineTo(X(L,a),PB);g.stroke();});
 [0,1].forEach(function(v){g.beginPath();g.moveTo(L,Y(v));g.lineTo(L+PW,Y(v));g.stroke();});
 g.lineWidth=1.4;g.lineJoin='round';g.lineCap='butt';
 for(var i=0;i<100;i++){
  var b=0.01+i*(2.99/99);
  g.strokeStyle=cols[i];g.beginPath();
  for(var j=0;j<=100;j++){
   var a=j*0.5,v=Math.pow(1-Math.exp(-k*a/AS[p]),b);
   if(j==0)g.moveTo(X(L,a),Y(v));else g.lineTo(X(L,a),Y(v));
  }
  g.stroke();
 }
 g.restore();
}
var sd=g.getImageData(0,0,W*S,H*S).data;
var out=document.getElementById('cv');var o=out.getContext('2d');
var im=o.createImageData(W,H),d=im.data,n=S*S,WS=W*S;
for(var y=0;y<H;y++){for(var x=0;x<W;x++){
 var r=0,gg=0,bb=0,aa=0;
 for(var dy=0;dy<S;dy++){var row=((y*S+dy)*WS+x*S)*4;
  for(var dx=0;dx<S;dx++){var q=row+dx*4;var al=sd[q+3];r+=sd[q]*al;gg+=sd[q+1]*al;bb+=sd[q+2]*al;aa+=al;}}
 var t=(y*W+x)*4;
 if(aa>0){d[t]=r/aa;d[t+1]=gg/aa;d[t+2]=bb/aa;d[t+3]=aa/n;}
}}
o.putImageData(im,0,0);
}catch(e){}
})();
</script>
</body></html>
